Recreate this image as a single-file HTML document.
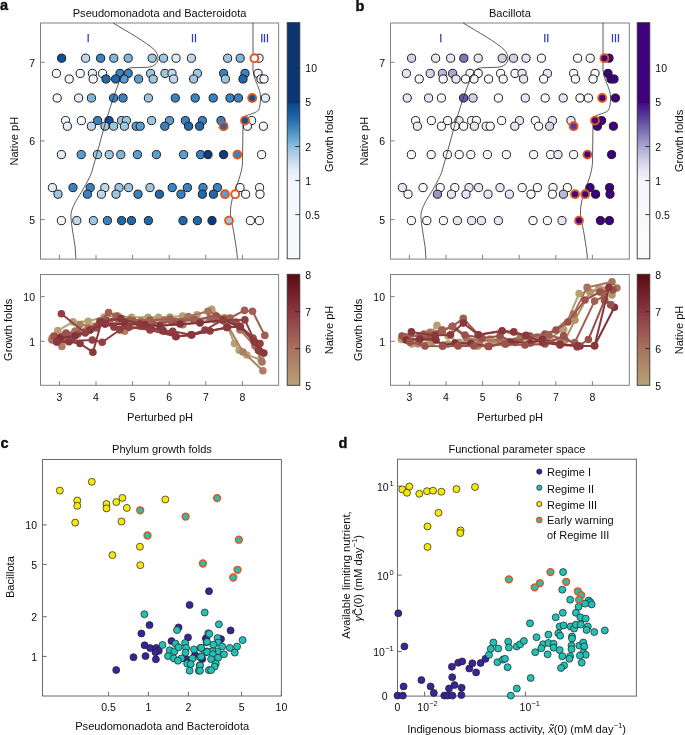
<!DOCTYPE html>
<html><head><meta charset="utf-8"><style>html,body{margin:0;padding:0;background:#fff;width:685px;height:735px;overflow:hidden}svg{display:block;will-change:transform}</style></head><body>
<svg width="685" height="735" viewBox="0 0 685 735" font-family='"Liberation Sans", sans-serif' fill="#0d0d0d">
<defs><linearGradient id="gph" x1="0" y1="0" x2="0" y2="1"><stop offset="0" stop-color="#5a0a10"/><stop offset="0.33" stop-color="#8a3540"/><stop offset="0.66" stop-color="#a8705e"/><stop offset="1" stop-color="#b8a274"/></linearGradient></defs>
<rect width="685" height="735" fill="#fff"/>
<text x="0" y="9.8" font-size="14.5" font-weight="bold" stroke="#000" stroke-width="0.35">a</text>
<text x="355.5" y="10.6" font-size="14.5" font-weight="bold" stroke="#000" stroke-width="0.35">b</text>
<text x="0.5" y="447.9" font-size="14.5" font-weight="bold" stroke="#000" stroke-width="0.35">c</text>
<text x="338.5" y="448" font-size="14.5" font-weight="bold" stroke="#000" stroke-width="0.35">d</text>
<rect x="40.5" y="23.0" width="238.10000000000002" height="236.10000000000002" fill="none" stroke="#808080" stroke-width="1"/>
<text x="159.55" y="16.8" text-anchor="middle" font-size="11.08">Pseudomonadota and Bacteroidota</text>
<text x="88.2" y="42" text-anchor="middle" font-size="10.6" fill="#2f36b0" stroke="#2f36b0" stroke-width="0.25">I</text>
<text x="194.0" y="42" text-anchor="middle" font-size="10.6" fill="#2f36b0" stroke="#2f36b0" stroke-width="0.25">II</text>
<text x="264.6" y="42" text-anchor="middle" font-size="10.6" fill="#2f36b0" stroke="#2f36b0" stroke-width="0.25">III</text>
<line x1="40.5" y1="62.3" x2="44.7" y2="62.3" stroke="#808080" stroke-width="1"/>
<text x="35.0" y="66.6" text-anchor="end" font-size="10.5">7</text>
<line x1="40.5" y1="140.9" x2="44.7" y2="140.9" stroke="#808080" stroke-width="1"/>
<text x="35.0" y="145.20000000000002" text-anchor="end" font-size="10.5">6</text>
<line x1="40.5" y1="219.6" x2="44.7" y2="219.6" stroke="#808080" stroke-width="1"/>
<text x="35.0" y="223.9" text-anchor="end" font-size="10.5">5</text>
<line x1="59.4" y1="259.1" x2="59.4" y2="254.90000000000003" stroke="#808080" stroke-width="1"/>
<line x1="96.0" y1="259.1" x2="96.0" y2="254.90000000000003" stroke="#808080" stroke-width="1"/>
<line x1="132.6" y1="259.1" x2="132.6" y2="254.90000000000003" stroke="#808080" stroke-width="1"/>
<line x1="169.20000000000002" y1="259.1" x2="169.20000000000002" y2="254.90000000000003" stroke="#808080" stroke-width="1"/>
<line x1="205.8" y1="259.1" x2="205.8" y2="254.90000000000003" stroke="#808080" stroke-width="1"/>
<line x1="242.4" y1="259.1" x2="242.4" y2="254.90000000000003" stroke="#808080" stroke-width="1"/>
<text transform="translate(18.1,141.2) rotate(-90)" text-anchor="middle" font-size="11.1">Native pH</text>
<circle cx="61.6" cy="58.2" r="4.1" fill="#0e509c" stroke="#1c1c1c" stroke-width="1.0"/>
<circle cx="85.6" cy="58.2" r="4.1" fill="#bfd7ec" stroke="#1c1c1c" stroke-width="1.0"/>
<circle cx="100.6" cy="58.2" r="4.1" fill="#3b83c0" stroke="#1c1c1c" stroke-width="1.0"/>
<circle cx="113.8" cy="58.2" r="4.1" fill="#80b6da" stroke="#1c1c1c" stroke-width="1.0"/>
<circle cx="128.2" cy="58.2" r="4.1" fill="#80b6da" stroke="#1c1c1c" stroke-width="1.0"/>
<circle cx="152.2" cy="58.2" r="4.1" fill="#9dc6e1" stroke="#1c1c1c" stroke-width="1.0"/>
<circle cx="163.5" cy="58.2" r="4.1" fill="#9dc6e1" stroke="#1c1c1c" stroke-width="1.0"/>
<circle cx="176.0" cy="58.2" r="4.1" fill="#e1ecf7" stroke="#1c1c1c" stroke-width="1.0"/>
<circle cx="191.4" cy="58.2" r="4.1" fill="#bfd7ec" stroke="#1c1c1c" stroke-width="1.0"/>
<circle cx="227.6" cy="58.2" r="4.1" fill="#9dc6e1" stroke="#1c1c1c" stroke-width="1.0"/>
<circle cx="240.2" cy="58.2" r="4.1" fill="#80b6da" stroke="#1c1c1c" stroke-width="1.0"/>
<circle cx="259.0" cy="58.2" r="4.1" fill="#f3f8fd" stroke="#1c1c1c" stroke-width="1.0"/>
<circle cx="56.4" cy="73.4" r="4.1" fill="#f3f8fd" stroke="#1c1c1c" stroke-width="1.0"/>
<circle cx="80.2" cy="73.4" r="4.1" fill="#f3f8fd" stroke="#1c1c1c" stroke-width="1.0"/>
<circle cx="92.4" cy="73.4" r="4.1" fill="#e1ecf7" stroke="#1c1c1c" stroke-width="1.0"/>
<circle cx="102.6" cy="73.4" r="4.1" fill="#f3f8fd" stroke="#1c1c1c" stroke-width="1.0"/>
<circle cx="120.0" cy="73.4" r="4.1" fill="#3b83c0" stroke="#1c1c1c" stroke-width="1.0"/>
<circle cx="128.2" cy="73.4" r="4.1" fill="#3b83c0" stroke="#1c1c1c" stroke-width="1.0"/>
<circle cx="150.6" cy="73.4" r="4.1" fill="#9dc6e1" stroke="#1c1c1c" stroke-width="1.0"/>
<circle cx="165.0" cy="73.4" r="4.1" fill="#9dc6e1" stroke="#1c1c1c" stroke-width="1.0"/>
<circle cx="172.0" cy="73.4" r="4.1" fill="#bfd7ec" stroke="#1c1c1c" stroke-width="1.0"/>
<circle cx="197.4" cy="73.4" r="4.1" fill="#9dc6e1" stroke="#1c1c1c" stroke-width="1.0"/>
<circle cx="223.6" cy="73.4" r="4.1" fill="#3b83c0" stroke="#1c1c1c" stroke-width="1.0"/>
<circle cx="245.0" cy="73.4" r="4.1" fill="#3b83c0" stroke="#1c1c1c" stroke-width="1.0"/>
<circle cx="258.0" cy="73.4" r="4.1" fill="#f3f8fd" stroke="#1c1c1c" stroke-width="1.0"/>
<circle cx="69.2" cy="79.0" r="4.1" fill="#f3f8fd" stroke="#1c1c1c" stroke-width="1.0"/>
<circle cx="93.2" cy="79.0" r="4.1" fill="#f3f8fd" stroke="#1c1c1c" stroke-width="1.0"/>
<circle cx="106.0" cy="79.0" r="4.1" fill="#2266ab" stroke="#1c1c1c" stroke-width="1.0"/>
<circle cx="115.6" cy="79.0" r="4.1" fill="#2266ab" stroke="#1c1c1c" stroke-width="1.0"/>
<circle cx="124.0" cy="79.0" r="4.1" fill="#5b9dce" stroke="#1c1c1c" stroke-width="1.0"/>
<circle cx="138.6" cy="79.0" r="4.1" fill="#5b9dce" stroke="#1c1c1c" stroke-width="1.0"/>
<circle cx="153.2" cy="79.0" r="4.1" fill="#9dc6e1" stroke="#1c1c1c" stroke-width="1.0"/>
<circle cx="173.6" cy="79.0" r="4.1" fill="#bfd7ec" stroke="#1c1c1c" stroke-width="1.0"/>
<circle cx="193.6" cy="79.0" r="4.1" fill="#9dc6e1" stroke="#1c1c1c" stroke-width="1.0"/>
<circle cx="225.4" cy="79.0" r="4.1" fill="#9dc6e1" stroke="#1c1c1c" stroke-width="1.0"/>
<circle cx="243.0" cy="79.0" r="4.1" fill="#2266ab" stroke="#1c1c1c" stroke-width="1.0"/>
<circle cx="261.0" cy="79.0" r="4.1" fill="#f3f8fd" stroke="#1c1c1c" stroke-width="1.0"/>
<circle cx="264.0" cy="79.0" r="4.1" fill="#f3f8fd" stroke="#1c1c1c" stroke-width="1.0"/>
<circle cx="57.2" cy="98.0" r="4.1" fill="#f3f8fd" stroke="#1c1c1c" stroke-width="1.0"/>
<circle cx="78.6" cy="98.0" r="4.1" fill="#e1ecf7" stroke="#1c1c1c" stroke-width="1.0"/>
<circle cx="91.4" cy="98.0" r="4.1" fill="#80b6da" stroke="#1c1c1c" stroke-width="1.0"/>
<circle cx="113.6" cy="98.0" r="4.1" fill="#3b83c0" stroke="#1c1c1c" stroke-width="1.0"/>
<circle cx="123.0" cy="98.0" r="4.1" fill="#3b83c0" stroke="#1c1c1c" stroke-width="1.0"/>
<circle cx="148.4" cy="98.0" r="4.1" fill="#9dc6e1" stroke="#1c1c1c" stroke-width="1.0"/>
<circle cx="175.3" cy="98.0" r="4.1" fill="#3b83c0" stroke="#1c1c1c" stroke-width="1.0"/>
<circle cx="195.2" cy="98.0" r="4.1" fill="#3b83c0" stroke="#1c1c1c" stroke-width="1.0"/>
<circle cx="213.2" cy="98.0" r="4.1" fill="#3b83c0" stroke="#1c1c1c" stroke-width="1.0"/>
<circle cx="230.0" cy="98.0" r="4.1" fill="#3b83c0" stroke="#1c1c1c" stroke-width="1.0"/>
<circle cx="238.4" cy="98.0" r="4.1" fill="#3b83c0" stroke="#1c1c1c" stroke-width="1.0"/>
<circle cx="265.4" cy="98.0" r="4.1" fill="#e1ecf7" stroke="#1c1c1c" stroke-width="1.0"/>
<circle cx="65.6" cy="120.6" r="4.1" fill="#f3f8fd" stroke="#1c1c1c" stroke-width="1.0"/>
<circle cx="81.4" cy="120.6" r="4.1" fill="#f3f8fd" stroke="#1c1c1c" stroke-width="1.0"/>
<circle cx="97.6" cy="120.6" r="4.1" fill="#3b83c0" stroke="#1c1c1c" stroke-width="1.0"/>
<circle cx="109.0" cy="120.6" r="4.1" fill="#0e509c" stroke="#1c1c1c" stroke-width="1.0"/>
<circle cx="121.6" cy="120.6" r="4.1" fill="#9dc6e1" stroke="#1c1c1c" stroke-width="1.0"/>
<circle cx="126.4" cy="120.6" r="4.1" fill="#9dc6e1" stroke="#1c1c1c" stroke-width="1.0"/>
<circle cx="151.6" cy="120.6" r="4.1" fill="#9dc6e1" stroke="#1c1c1c" stroke-width="1.0"/>
<circle cx="169.5" cy="120.6" r="4.1" fill="#5b9dce" stroke="#1c1c1c" stroke-width="1.0"/>
<circle cx="185.4" cy="120.6" r="4.1" fill="#3b83c0" stroke="#1c1c1c" stroke-width="1.0"/>
<circle cx="202.4" cy="120.6" r="4.1" fill="#3b83c0" stroke="#1c1c1c" stroke-width="1.0"/>
<circle cx="221.0" cy="120.6" r="4.1" fill="#3b83c0" stroke="#1c1c1c" stroke-width="1.0"/>
<circle cx="251.6" cy="120.6" r="4.1" fill="#f3f8fd" stroke="#1c1c1c" stroke-width="1.0"/>
<circle cx="67.4" cy="126.2" r="4.1" fill="#e1ecf7" stroke="#1c1c1c" stroke-width="1.0"/>
<circle cx="91.4" cy="126.2" r="4.1" fill="#bfd7ec" stroke="#1c1c1c" stroke-width="1.0"/>
<circle cx="105.0" cy="126.2" r="4.1" fill="#9dc6e1" stroke="#1c1c1c" stroke-width="1.0"/>
<circle cx="113.6" cy="126.2" r="4.1" fill="#9dc6e1" stroke="#1c1c1c" stroke-width="1.0"/>
<circle cx="124.4" cy="126.2" r="4.1" fill="#9dc6e1" stroke="#1c1c1c" stroke-width="1.0"/>
<circle cx="136.2" cy="126.2" r="4.1" fill="#5b9dce" stroke="#1c1c1c" stroke-width="1.0"/>
<circle cx="140.2" cy="126.2" r="4.1" fill="#5b9dce" stroke="#1c1c1c" stroke-width="1.0"/>
<circle cx="164.8" cy="126.2" r="4.1" fill="#3b83c0" stroke="#1c1c1c" stroke-width="1.0"/>
<circle cx="188.6" cy="126.2" r="4.1" fill="#2266ab" stroke="#1c1c1c" stroke-width="1.0"/>
<circle cx="199.6" cy="126.2" r="4.1" fill="#2266ab" stroke="#1c1c1c" stroke-width="1.0"/>
<circle cx="247.4" cy="126.2" r="4.1" fill="#f3f8fd" stroke="#1c1c1c" stroke-width="1.0"/>
<circle cx="263.4" cy="126.2" r="4.1" fill="#f3f8fd" stroke="#1c1c1c" stroke-width="1.0"/>
<circle cx="61.4" cy="154.6" r="4.1" fill="#e1ecf7" stroke="#1c1c1c" stroke-width="1.0"/>
<circle cx="81.2" cy="154.6" r="4.1" fill="#5b9dce" stroke="#1c1c1c" stroke-width="1.0"/>
<circle cx="97.4" cy="154.6" r="4.1" fill="#9dc6e1" stroke="#1c1c1c" stroke-width="1.0"/>
<circle cx="109.2" cy="154.6" r="4.1" fill="#9dc6e1" stroke="#1c1c1c" stroke-width="1.0"/>
<circle cx="120.8" cy="154.6" r="4.1" fill="#80b6da" stroke="#1c1c1c" stroke-width="1.0"/>
<circle cx="137.4" cy="154.6" r="4.1" fill="#5b9dce" stroke="#1c1c1c" stroke-width="1.0"/>
<circle cx="156.4" cy="154.6" r="4.1" fill="#5b9dce" stroke="#1c1c1c" stroke-width="1.0"/>
<circle cx="183.6" cy="154.6" r="4.1" fill="#5b9dce" stroke="#1c1c1c" stroke-width="1.0"/>
<circle cx="200.6" cy="154.6" r="4.1" fill="#3b83c0" stroke="#1c1c1c" stroke-width="1.0"/>
<circle cx="208.0" cy="154.6" r="4.1" fill="#0b3d7e" stroke="#1c1c1c" stroke-width="1.0"/>
<circle cx="223.6" cy="154.6" r="4.1" fill="#0b3d7e" stroke="#1c1c1c" stroke-width="1.0"/>
<circle cx="261.6" cy="154.6" r="4.1" fill="#f3f8fd" stroke="#1c1c1c" stroke-width="1.0"/>
<circle cx="52.4" cy="187.6" r="4.1" fill="#e1ecf7" stroke="#1c1c1c" stroke-width="1.0"/>
<circle cx="73.0" cy="187.6" r="4.1" fill="#3b83c0" stroke="#1c1c1c" stroke-width="1.0"/>
<circle cx="90.2" cy="187.6" r="4.1" fill="#3b83c0" stroke="#1c1c1c" stroke-width="1.0"/>
<circle cx="104.8" cy="187.6" r="4.1" fill="#bfd7ec" stroke="#1c1c1c" stroke-width="1.0"/>
<circle cx="119.0" cy="187.6" r="4.1" fill="#9dc6e1" stroke="#1c1c1c" stroke-width="1.0"/>
<circle cx="128.6" cy="187.6" r="4.1" fill="#9dc6e1" stroke="#1c1c1c" stroke-width="1.0"/>
<circle cx="150.0" cy="187.6" r="4.1" fill="#9dc6e1" stroke="#1c1c1c" stroke-width="1.0"/>
<circle cx="172.2" cy="187.6" r="4.1" fill="#3b83c0" stroke="#1c1c1c" stroke-width="1.0"/>
<circle cx="187.4" cy="187.6" r="4.1" fill="#3b83c0" stroke="#1c1c1c" stroke-width="1.0"/>
<circle cx="203.0" cy="187.6" r="4.1" fill="#3b83c0" stroke="#1c1c1c" stroke-width="1.0"/>
<circle cx="217.4" cy="187.6" r="4.1" fill="#3b83c0" stroke="#1c1c1c" stroke-width="1.0"/>
<circle cx="240.0" cy="187.6" r="4.1" fill="#f3f8fd" stroke="#1c1c1c" stroke-width="1.0"/>
<circle cx="259.6" cy="187.6" r="4.1" fill="#f3f8fd" stroke="#1c1c1c" stroke-width="1.0"/>
<circle cx="58.0" cy="194.2" r="4.1" fill="#9dc6e1" stroke="#1c1c1c" stroke-width="1.0"/>
<circle cx="87.4" cy="194.2" r="4.1" fill="#3b83c0" stroke="#1c1c1c" stroke-width="1.0"/>
<circle cx="101.4" cy="194.2" r="4.1" fill="#bfd7ec" stroke="#1c1c1c" stroke-width="1.0"/>
<circle cx="116.0" cy="194.2" r="4.1" fill="#9dc6e1" stroke="#1c1c1c" stroke-width="1.0"/>
<circle cx="138.0" cy="194.2" r="4.1" fill="#3b83c0" stroke="#1c1c1c" stroke-width="1.0"/>
<circle cx="159.4" cy="194.2" r="4.1" fill="#2266ab" stroke="#1c1c1c" stroke-width="1.0"/>
<circle cx="181.0" cy="194.2" r="4.1" fill="#3b83c0" stroke="#1c1c1c" stroke-width="1.0"/>
<circle cx="202.4" cy="194.2" r="4.1" fill="#2266ab" stroke="#1c1c1c" stroke-width="1.0"/>
<circle cx="213.4" cy="194.2" r="4.1" fill="#2266ab" stroke="#1c1c1c" stroke-width="1.0"/>
<circle cx="245.6" cy="194.2" r="4.1" fill="#f3f8fd" stroke="#1c1c1c" stroke-width="1.0"/>
<circle cx="260.0" cy="194.2" r="4.1" fill="#f3f8fd" stroke="#1c1c1c" stroke-width="1.0"/>
<circle cx="61.4" cy="220.6" r="4.1" fill="#f3f8fd" stroke="#1c1c1c" stroke-width="1.0"/>
<circle cx="76.8" cy="220.6" r="4.1" fill="#bfd7ec" stroke="#1c1c1c" stroke-width="1.0"/>
<circle cx="93.4" cy="220.6" r="4.1" fill="#9dc6e1" stroke="#1c1c1c" stroke-width="1.0"/>
<circle cx="107.4" cy="220.6" r="4.1" fill="#3b83c0" stroke="#1c1c1c" stroke-width="1.0"/>
<circle cx="121.6" cy="220.6" r="4.1" fill="#2266ab" stroke="#1c1c1c" stroke-width="1.0"/>
<circle cx="131.4" cy="220.6" r="4.1" fill="#2266ab" stroke="#1c1c1c" stroke-width="1.0"/>
<circle cx="148.4" cy="220.6" r="4.1" fill="#2266ab" stroke="#1c1c1c" stroke-width="1.0"/>
<circle cx="183.0" cy="220.6" r="4.1" fill="#2266ab" stroke="#1c1c1c" stroke-width="1.0"/>
<circle cx="197.4" cy="220.6" r="4.1" fill="#2266ab" stroke="#1c1c1c" stroke-width="1.0"/>
<circle cx="212.0" cy="220.6" r="4.1" fill="#0b3d7e" stroke="#1c1c1c" stroke-width="1.0"/>
<circle cx="250.4" cy="220.6" r="4.1" fill="#f3f8fd" stroke="#1c1c1c" stroke-width="1.0"/>
<circle cx="259.4" cy="220.6" r="4.1" fill="#f3f8fd" stroke="#1c1c1c" stroke-width="1.0"/>
<g transform="translate(0,0)" fill="none" stroke="#262626" stroke-width="0.75"><path d="M113.3,23.1 C128,32 146,42 154.2,49.6 C158.5,54 158.5,60 157.2,62 C155,66 150,67.3 146,67.3 L130.7,67.8 C127,68.2 124,71 121.5,77 L119,82 L112.2,101.2 L105.3,123.2 L98.5,147.9 L91.6,172.6 C89,179 84,188 76.5,200.1 C72,208 70.5,213 71,218 C71.5,225 73,233 75.1,246.8 L75.9,258.7"/><path d="M253,22.8 L253,70 C253.5,78 257.5,84 259.4,90.3 C261,95 261,104 258.7,109.8 C256.5,113 251,113.5 246,115.8 C243.5,117 243,120 243,124.5 L242.5,161.8 C242.3,167 241.5,172 237.8,182.5 C234.5,190 232.5,197 231,205 C230,212 230.5,218 231.6,221.8 C233,228 234.2,234 234.7,238 C236,246 237,252 237.4,258.7"/></g>
<circle cx="254.4" cy="58.2" r="3.95" fill="#f3f8fd" stroke="#e0561b" stroke-width="1.9"/>
<circle cx="252.2" cy="98.0" r="3.95" fill="#0e509c" stroke="#e0561b" stroke-width="1.9"/>
<circle cx="245.0" cy="120.6" r="3.95" fill="#0e509c" stroke="#e0561b" stroke-width="1.9"/>
<circle cx="223.6" cy="126.2" r="3.95" fill="#2266ab" stroke="#e0561b" stroke-width="1.9"/>
<circle cx="237.4" cy="154.6" r="3.95" fill="#3b83c0" stroke="#e0561b" stroke-width="1.9"/>
<circle cx="225.0" cy="194.2" r="3.95" fill="#5b9dce" stroke="#e0561b" stroke-width="1.9"/>
<circle cx="235.2" cy="194.2" r="3.95" fill="#f3f8fd" stroke="#e0561b" stroke-width="1.9"/>
<circle cx="229.0" cy="220.6" r="3.95" fill="#9dc6e1" stroke="#e0561b" stroke-width="1.9"/>
<defs><linearGradient id="ga" x1="0" y1="0" x2="0" y2="1"><stop offset="0" stop-color="#0b3470"/><stop offset="0.337" stop-color="#0b3875"/><stop offset="0.345" stop-color="#0a4a90"/><stop offset="0.4" stop-color="#1e63a8"/><stop offset="0.46" stop-color="#4a90c6"/><stop offset="0.525" stop-color="#8fbfdf"/><stop offset="0.585" stop-color="#c6daef"/><stop offset="0.625" stop-color="#e3edf7"/><stop offset="0.675" stop-color="#f2f7fd"/><stop offset="1" stop-color="#f6fafe"/></linearGradient></defs>
<rect x="287.2" y="22.7" width="12.600000000000023" height="236.1" fill="url(#ga)" stroke="#333" stroke-width="0.9"/>
<line x1="295.3" y1="67.7" x2="299.8" y2="67.7" stroke="#222" stroke-width="0.9"/>
<text x="305.3" y="72.0" font-size="10.5">10</text>
<line x1="295.3" y1="101.7" x2="299.8" y2="101.7" stroke="#222" stroke-width="0.9"/>
<text x="305.3" y="106.0" font-size="10.5">5</text>
<line x1="295.3" y1="146.5" x2="299.8" y2="146.5" stroke="#222" stroke-width="0.9"/>
<text x="305.3" y="150.8" font-size="10.5">2</text>
<line x1="295.3" y1="180.6" x2="299.8" y2="180.6" stroke="#222" stroke-width="0.9"/>
<text x="305.3" y="184.9" font-size="10.5">1</text>
<line x1="295.3" y1="214.6" x2="299.8" y2="214.6" stroke="#222" stroke-width="0.9"/>
<text x="305.3" y="218.9" font-size="10.5">0.5</text>
<text transform="translate(333.2,140.9) rotate(-90)" text-anchor="middle" font-size="11.1">Growth folds</text>
<rect x="390.5" y="23.0" width="238.80000000000007" height="236.10000000000002" fill="none" stroke="#808080" stroke-width="1"/>
<text x="509.90000000000003" y="16.8" text-anchor="middle" font-size="11.08">Bacillota</text>
<text x="440.8" y="42" text-anchor="middle" font-size="10.6" fill="#2f36b0" stroke="#2f36b0" stroke-width="0.25">I</text>
<text x="546.3" y="42" text-anchor="middle" font-size="10.6" fill="#2f36b0" stroke="#2f36b0" stroke-width="0.25">II</text>
<text x="615.5" y="42" text-anchor="middle" font-size="10.6" fill="#2f36b0" stroke="#2f36b0" stroke-width="0.25">III</text>
<line x1="390.5" y1="62.3" x2="394.7" y2="62.3" stroke="#808080" stroke-width="1"/>
<text x="385.0" y="66.6" text-anchor="end" font-size="10.5">7</text>
<line x1="390.5" y1="140.9" x2="394.7" y2="140.9" stroke="#808080" stroke-width="1"/>
<text x="385.0" y="145.20000000000002" text-anchor="end" font-size="10.5">6</text>
<line x1="390.5" y1="219.6" x2="394.7" y2="219.6" stroke="#808080" stroke-width="1"/>
<text x="385.0" y="223.9" text-anchor="end" font-size="10.5">5</text>
<line x1="409.4" y1="259.1" x2="409.4" y2="254.90000000000003" stroke="#808080" stroke-width="1"/>
<line x1="446.0" y1="259.1" x2="446.0" y2="254.90000000000003" stroke="#808080" stroke-width="1"/>
<line x1="482.6" y1="259.1" x2="482.6" y2="254.90000000000003" stroke="#808080" stroke-width="1"/>
<line x1="519.2" y1="259.1" x2="519.2" y2="254.90000000000003" stroke="#808080" stroke-width="1"/>
<line x1="555.8" y1="259.1" x2="555.8" y2="254.90000000000003" stroke="#808080" stroke-width="1"/>
<line x1="592.4" y1="259.1" x2="592.4" y2="254.90000000000003" stroke="#808080" stroke-width="1"/>
<text transform="translate(368.1,141.2) rotate(-90)" text-anchor="middle" font-size="11.1">Native pH</text>
<circle cx="411.6" cy="58.2" r="4.1" fill="#d3d2e8" stroke="#1c1c1c" stroke-width="1.0"/>
<circle cx="435.6" cy="58.2" r="4.1" fill="#e7e6f2" stroke="#1c1c1c" stroke-width="1.0"/>
<circle cx="450.6" cy="58.2" r="4.1" fill="#e7e6f2" stroke="#1c1c1c" stroke-width="1.0"/>
<circle cx="463.8" cy="58.2" r="4.1" fill="#7f78b9" stroke="#1c1c1c" stroke-width="1.0"/>
<circle cx="478.2" cy="58.2" r="4.1" fill="#e7e6f2" stroke="#1c1c1c" stroke-width="1.0"/>
<circle cx="502.2" cy="58.2" r="4.1" fill="#d3d2e8" stroke="#1c1c1c" stroke-width="1.0"/>
<circle cx="513.5" cy="58.2" r="4.1" fill="#d3d2e8" stroke="#1c1c1c" stroke-width="1.0"/>
<circle cx="526.0" cy="58.2" r="4.1" fill="#e7e6f2" stroke="#1c1c1c" stroke-width="1.0"/>
<circle cx="541.4" cy="58.2" r="4.1" fill="#fbfafd" stroke="#1c1c1c" stroke-width="1.0"/>
<circle cx="577.6" cy="58.2" r="4.1" fill="#fbfafd" stroke="#1c1c1c" stroke-width="1.0"/>
<circle cx="590.2" cy="58.2" r="4.1" fill="#fbfafd" stroke="#1c1c1c" stroke-width="1.0"/>
<circle cx="609.0" cy="58.2" r="4.1" fill="#3f007d" stroke="#1c1c1c" stroke-width="1.0"/>
<circle cx="406.4" cy="73.4" r="4.1" fill="#e7e6f2" stroke="#1c1c1c" stroke-width="1.0"/>
<circle cx="430.2" cy="73.4" r="4.1" fill="#d3d2e8" stroke="#1c1c1c" stroke-width="1.0"/>
<circle cx="442.4" cy="73.4" r="4.1" fill="#b9b8db" stroke="#1c1c1c" stroke-width="1.0"/>
<circle cx="452.6" cy="73.4" r="4.1" fill="#a9a7d3" stroke="#1c1c1c" stroke-width="1.0"/>
<circle cx="470.0" cy="73.4" r="4.1" fill="#fbfafd" stroke="#1c1c1c" stroke-width="1.0"/>
<circle cx="478.2" cy="73.4" r="4.1" fill="#fbfafd" stroke="#1c1c1c" stroke-width="1.0"/>
<circle cx="500.6" cy="73.4" r="4.1" fill="#fbfafd" stroke="#1c1c1c" stroke-width="1.0"/>
<circle cx="515.0" cy="73.4" r="4.1" fill="#fbfafd" stroke="#1c1c1c" stroke-width="1.0"/>
<circle cx="522.0" cy="73.4" r="4.1" fill="#e7e6f2" stroke="#1c1c1c" stroke-width="1.0"/>
<circle cx="547.4" cy="73.4" r="4.1" fill="#e7e6f2" stroke="#1c1c1c" stroke-width="1.0"/>
<circle cx="573.6" cy="73.4" r="4.1" fill="#fbfafd" stroke="#1c1c1c" stroke-width="1.0"/>
<circle cx="595.0" cy="73.4" r="4.1" fill="#fbfafd" stroke="#1c1c1c" stroke-width="1.0"/>
<circle cx="608.0" cy="73.4" r="4.1" fill="#3f007d" stroke="#1c1c1c" stroke-width="1.0"/>
<circle cx="419.2" cy="79.0" r="4.1" fill="#fbfafd" stroke="#1c1c1c" stroke-width="1.0"/>
<circle cx="443.2" cy="79.0" r="4.1" fill="#fbfafd" stroke="#1c1c1c" stroke-width="1.0"/>
<circle cx="456.0" cy="79.0" r="4.1" fill="#e7e6f2" stroke="#1c1c1c" stroke-width="1.0"/>
<circle cx="465.6" cy="79.0" r="4.1" fill="#fbfafd" stroke="#1c1c1c" stroke-width="1.0"/>
<circle cx="474.0" cy="79.0" r="4.1" fill="#fbfafd" stroke="#1c1c1c" stroke-width="1.0"/>
<circle cx="488.6" cy="79.0" r="4.1" fill="#fbfafd" stroke="#1c1c1c" stroke-width="1.0"/>
<circle cx="503.2" cy="79.0" r="4.1" fill="#fbfafd" stroke="#1c1c1c" stroke-width="1.0"/>
<circle cx="523.6" cy="79.0" r="4.1" fill="#e7e6f2" stroke="#1c1c1c" stroke-width="1.0"/>
<circle cx="543.6" cy="79.0" r="4.1" fill="#fbfafd" stroke="#1c1c1c" stroke-width="1.0"/>
<circle cx="575.4" cy="79.0" r="4.1" fill="#fbfafd" stroke="#1c1c1c" stroke-width="1.0"/>
<circle cx="593.0" cy="79.0" r="4.1" fill="#fbfafd" stroke="#1c1c1c" stroke-width="1.0"/>
<circle cx="611.0" cy="79.0" r="4.1" fill="#3f007d" stroke="#1c1c1c" stroke-width="1.0"/>
<circle cx="614.0" cy="79.0" r="4.1" fill="#3f007d" stroke="#1c1c1c" stroke-width="1.0"/>
<circle cx="407.2" cy="98.0" r="4.1" fill="#e7e6f2" stroke="#1c1c1c" stroke-width="1.0"/>
<circle cx="428.6" cy="98.0" r="4.1" fill="#e7e6f2" stroke="#1c1c1c" stroke-width="1.0"/>
<circle cx="441.4" cy="98.0" r="4.1" fill="#fbfafd" stroke="#1c1c1c" stroke-width="1.0"/>
<circle cx="463.6" cy="98.0" r="4.1" fill="#6a5cae" stroke="#1c1c1c" stroke-width="1.0"/>
<circle cx="473.0" cy="98.0" r="4.1" fill="#d3d2e8" stroke="#1c1c1c" stroke-width="1.0"/>
<circle cx="498.4" cy="98.0" r="4.1" fill="#fbfafd" stroke="#1c1c1c" stroke-width="1.0"/>
<circle cx="525.3" cy="98.0" r="4.1" fill="#e7e6f2" stroke="#1c1c1c" stroke-width="1.0"/>
<circle cx="545.2" cy="98.0" r="4.1" fill="#fbfafd" stroke="#1c1c1c" stroke-width="1.0"/>
<circle cx="563.2" cy="98.0" r="4.1" fill="#e7e6f2" stroke="#1c1c1c" stroke-width="1.0"/>
<circle cx="580.0" cy="98.0" r="4.1" fill="#fbfafd" stroke="#1c1c1c" stroke-width="1.0"/>
<circle cx="588.4" cy="98.0" r="4.1" fill="#fbfafd" stroke="#1c1c1c" stroke-width="1.0"/>
<circle cx="615.4" cy="98.0" r="4.1" fill="#3f007d" stroke="#1c1c1c" stroke-width="1.0"/>
<circle cx="415.6" cy="120.6" r="4.1" fill="#fbfafd" stroke="#1c1c1c" stroke-width="1.0"/>
<circle cx="431.4" cy="120.6" r="4.1" fill="#fbfafd" stroke="#1c1c1c" stroke-width="1.0"/>
<circle cx="447.6" cy="120.6" r="4.1" fill="#fbfafd" stroke="#1c1c1c" stroke-width="1.0"/>
<circle cx="459.0" cy="120.6" r="4.1" fill="#e7e6f2" stroke="#1c1c1c" stroke-width="1.0"/>
<circle cx="471.6" cy="120.6" r="4.1" fill="#fbfafd" stroke="#1c1c1c" stroke-width="1.0"/>
<circle cx="476.4" cy="120.6" r="4.1" fill="#fbfafd" stroke="#1c1c1c" stroke-width="1.0"/>
<circle cx="501.6" cy="120.6" r="4.1" fill="#fbfafd" stroke="#1c1c1c" stroke-width="1.0"/>
<circle cx="519.5" cy="120.6" r="4.1" fill="#e7e6f2" stroke="#1c1c1c" stroke-width="1.0"/>
<circle cx="535.4" cy="120.6" r="4.1" fill="#fbfafd" stroke="#1c1c1c" stroke-width="1.0"/>
<circle cx="552.4" cy="120.6" r="4.1" fill="#e7e6f2" stroke="#1c1c1c" stroke-width="1.0"/>
<circle cx="571.0" cy="120.6" r="4.1" fill="#e7e6f2" stroke="#1c1c1c" stroke-width="1.0"/>
<circle cx="601.6" cy="120.6" r="4.1" fill="#3f007d" stroke="#1c1c1c" stroke-width="1.0"/>
<circle cx="417.4" cy="126.2" r="4.1" fill="#e7e6f2" stroke="#1c1c1c" stroke-width="1.0"/>
<circle cx="441.4" cy="126.2" r="4.1" fill="#fbfafd" stroke="#1c1c1c" stroke-width="1.0"/>
<circle cx="455.0" cy="126.2" r="4.1" fill="#fbfafd" stroke="#1c1c1c" stroke-width="1.0"/>
<circle cx="463.6" cy="126.2" r="4.1" fill="#fbfafd" stroke="#1c1c1c" stroke-width="1.0"/>
<circle cx="474.4" cy="126.2" r="4.1" fill="#e7e6f2" stroke="#1c1c1c" stroke-width="1.0"/>
<circle cx="486.2" cy="126.2" r="4.1" fill="#fbfafd" stroke="#1c1c1c" stroke-width="1.0"/>
<circle cx="490.2" cy="126.2" r="4.1" fill="#fbfafd" stroke="#1c1c1c" stroke-width="1.0"/>
<circle cx="514.8" cy="126.2" r="4.1" fill="#e7e6f2" stroke="#1c1c1c" stroke-width="1.0"/>
<circle cx="538.6" cy="126.2" r="4.1" fill="#fbfafd" stroke="#1c1c1c" stroke-width="1.0"/>
<circle cx="549.6" cy="126.2" r="4.1" fill="#d3d2e8" stroke="#1c1c1c" stroke-width="1.0"/>
<circle cx="597.4" cy="126.2" r="4.1" fill="#3f007d" stroke="#1c1c1c" stroke-width="1.0"/>
<circle cx="613.4" cy="126.2" r="4.1" fill="#3f007d" stroke="#1c1c1c" stroke-width="1.0"/>
<circle cx="411.4" cy="154.6" r="4.1" fill="#fbfafd" stroke="#1c1c1c" stroke-width="1.0"/>
<circle cx="431.2" cy="154.6" r="4.1" fill="#fbfafd" stroke="#1c1c1c" stroke-width="1.0"/>
<circle cx="447.4" cy="154.6" r="4.1" fill="#fbfafd" stroke="#1c1c1c" stroke-width="1.0"/>
<circle cx="459.2" cy="154.6" r="4.1" fill="#fbfafd" stroke="#1c1c1c" stroke-width="1.0"/>
<circle cx="470.8" cy="154.6" r="4.1" fill="#fbfafd" stroke="#1c1c1c" stroke-width="1.0"/>
<circle cx="487.4" cy="154.6" r="4.1" fill="#fbfafd" stroke="#1c1c1c" stroke-width="1.0"/>
<circle cx="506.4" cy="154.6" r="4.1" fill="#fbfafd" stroke="#1c1c1c" stroke-width="1.0"/>
<circle cx="533.6" cy="154.6" r="4.1" fill="#fbfafd" stroke="#1c1c1c" stroke-width="1.0"/>
<circle cx="550.6" cy="154.6" r="4.1" fill="#fbfafd" stroke="#1c1c1c" stroke-width="1.0"/>
<circle cx="558.0" cy="154.6" r="4.1" fill="#e7e6f2" stroke="#1c1c1c" stroke-width="1.0"/>
<circle cx="573.6" cy="154.6" r="4.1" fill="#fbfafd" stroke="#1c1c1c" stroke-width="1.0"/>
<circle cx="611.6" cy="154.6" r="4.1" fill="#3f007d" stroke="#1c1c1c" stroke-width="1.0"/>
<circle cx="402.4" cy="187.6" r="4.1" fill="#e7e6f2" stroke="#1c1c1c" stroke-width="1.0"/>
<circle cx="423.0" cy="187.6" r="4.1" fill="#fbfafd" stroke="#1c1c1c" stroke-width="1.0"/>
<circle cx="440.2" cy="187.6" r="4.1" fill="#fbfafd" stroke="#1c1c1c" stroke-width="1.0"/>
<circle cx="454.8" cy="187.6" r="4.1" fill="#fbfafd" stroke="#1c1c1c" stroke-width="1.0"/>
<circle cx="469.0" cy="187.6" r="4.1" fill="#e7e6f2" stroke="#1c1c1c" stroke-width="1.0"/>
<circle cx="478.6" cy="187.6" r="4.1" fill="#e7e6f2" stroke="#1c1c1c" stroke-width="1.0"/>
<circle cx="500.0" cy="187.6" r="4.1" fill="#e7e6f2" stroke="#1c1c1c" stroke-width="1.0"/>
<circle cx="522.2" cy="187.6" r="4.1" fill="#fbfafd" stroke="#1c1c1c" stroke-width="1.0"/>
<circle cx="537.4" cy="187.6" r="4.1" fill="#fbfafd" stroke="#1c1c1c" stroke-width="1.0"/>
<circle cx="553.0" cy="187.6" r="4.1" fill="#fbfafd" stroke="#1c1c1c" stroke-width="1.0"/>
<circle cx="567.4" cy="187.6" r="4.1" fill="#fbfafd" stroke="#1c1c1c" stroke-width="1.0"/>
<circle cx="590.0" cy="187.6" r="4.1" fill="#3f007d" stroke="#1c1c1c" stroke-width="1.0"/>
<circle cx="609.6" cy="187.6" r="4.1" fill="#3f007d" stroke="#1c1c1c" stroke-width="1.0"/>
<circle cx="408.0" cy="194.2" r="4.1" fill="#fbfafd" stroke="#1c1c1c" stroke-width="1.0"/>
<circle cx="437.4" cy="194.2" r="4.1" fill="#9896ca" stroke="#1c1c1c" stroke-width="1.0"/>
<circle cx="451.4" cy="194.2" r="4.1" fill="#e7e6f2" stroke="#1c1c1c" stroke-width="1.0"/>
<circle cx="466.0" cy="194.2" r="4.1" fill="#e7e6f2" stroke="#1c1c1c" stroke-width="1.0"/>
<circle cx="488.0" cy="194.2" r="4.1" fill="#e7e6f2" stroke="#1c1c1c" stroke-width="1.0"/>
<circle cx="509.4" cy="194.2" r="4.1" fill="#e7e6f2" stroke="#1c1c1c" stroke-width="1.0"/>
<circle cx="531.0" cy="194.2" r="4.1" fill="#fbfafd" stroke="#1c1c1c" stroke-width="1.0"/>
<circle cx="552.4" cy="194.2" r="4.1" fill="#fbfafd" stroke="#1c1c1c" stroke-width="1.0"/>
<circle cx="563.4" cy="194.2" r="4.1" fill="#b9b8db" stroke="#1c1c1c" stroke-width="1.0"/>
<circle cx="595.6" cy="194.2" r="4.1" fill="#3f007d" stroke="#1c1c1c" stroke-width="1.0"/>
<circle cx="610.0" cy="194.2" r="4.1" fill="#3f007d" stroke="#1c1c1c" stroke-width="1.0"/>
<circle cx="411.4" cy="220.6" r="4.1" fill="#fbfafd" stroke="#1c1c1c" stroke-width="1.0"/>
<circle cx="426.8" cy="220.6" r="4.1" fill="#fbfafd" stroke="#1c1c1c" stroke-width="1.0"/>
<circle cx="443.4" cy="220.6" r="4.1" fill="#fbfafd" stroke="#1c1c1c" stroke-width="1.0"/>
<circle cx="457.4" cy="220.6" r="4.1" fill="#e7e6f2" stroke="#1c1c1c" stroke-width="1.0"/>
<circle cx="471.6" cy="220.6" r="4.1" fill="#e7e6f2" stroke="#1c1c1c" stroke-width="1.0"/>
<circle cx="481.4" cy="220.6" r="4.1" fill="#e7e6f2" stroke="#1c1c1c" stroke-width="1.0"/>
<circle cx="498.4" cy="220.6" r="4.1" fill="#e7e6f2" stroke="#1c1c1c" stroke-width="1.0"/>
<circle cx="533.0" cy="220.6" r="4.1" fill="#fbfafd" stroke="#1c1c1c" stroke-width="1.0"/>
<circle cx="547.4" cy="220.6" r="4.1" fill="#fbfafd" stroke="#1c1c1c" stroke-width="1.0"/>
<circle cx="562.0" cy="220.6" r="4.1" fill="#e7e6f2" stroke="#1c1c1c" stroke-width="1.0"/>
<circle cx="600.4" cy="220.6" r="4.1" fill="#3f007d" stroke="#1c1c1c" stroke-width="1.0"/>
<circle cx="609.4" cy="220.6" r="4.1" fill="#3f007d" stroke="#1c1c1c" stroke-width="1.0"/>
<g transform="translate(350,0)" fill="none" stroke="#262626" stroke-width="0.75"><path d="M113.3,23.1 C128,32 146,42 154.2,49.6 C158.5,54 158.5,60 157.2,62 C155,66 150,67.3 146,67.3 L130.7,67.8 C127,68.2 124,71 121.5,77 L119,82 L112.2,101.2 L105.3,123.2 L98.5,147.9 L91.6,172.6 C89,179 84,188 76.5,200.1 C72,208 70.5,213 71,218 C71.5,225 73,233 75.1,246.8 L75.9,258.7"/><path d="M253,22.8 L253,70 C253.5,78 257.5,84 259.4,90.3 C261,95 261,104 258.7,109.8 C256.5,113 251,113.5 246,115.8 C243.5,117 243,120 243,124.5 L242.5,161.8 C242.3,167 241.5,172 237.8,182.5 C234.5,190 232.5,197 231,205 C230,212 230.5,218 231.6,221.8 C233,228 234.2,234 234.7,238 C236,246 237,252 237.4,258.7"/></g>
<circle cx="604.4" cy="58.2" r="3.95" fill="#3f007d" stroke="#e0561b" stroke-width="1.9"/>
<circle cx="602.2" cy="98.0" r="3.95" fill="#3f007d" stroke="#e0561b" stroke-width="1.9"/>
<circle cx="595.0" cy="120.6" r="3.95" fill="#3f007d" stroke="#e0561b" stroke-width="1.9"/>
<circle cx="573.6" cy="126.2" r="3.95" fill="#5a38a0" stroke="#e0561b" stroke-width="1.9"/>
<circle cx="587.4" cy="154.6" r="3.95" fill="#3f007d" stroke="#e0561b" stroke-width="1.9"/>
<circle cx="575.0" cy="194.2" r="3.95" fill="#3f007d" stroke="#e0561b" stroke-width="1.9"/>
<circle cx="585.2" cy="194.2" r="3.95" fill="#3f007d" stroke="#e0561b" stroke-width="1.9"/>
<circle cx="579.0" cy="220.6" r="3.95" fill="#3f007d" stroke="#e0561b" stroke-width="1.9"/>
<defs><linearGradient id="gb" x1="0" y1="0" x2="0" y2="1"><stop offset="0" stop-color="#3f007d"/><stop offset="0.337" stop-color="#3f007d"/><stop offset="0.345" stop-color="#451085"/><stop offset="0.4" stop-color="#5a3c9e"/><stop offset="0.46" stop-color="#7a72b5"/><stop offset="0.525" stop-color="#a9a7d3"/><stop offset="0.585" stop-color="#d0cfe6"/><stop offset="0.625" stop-color="#e6e5f1"/><stop offset="0.675" stop-color="#f6f5fa"/><stop offset="1" stop-color="#fcfbfd"/></linearGradient></defs>
<rect x="637.2" y="22.7" width="12.599999999999909" height="236.1" fill="url(#gb)" stroke="#333" stroke-width="0.9"/>
<line x1="645.3" y1="67.7" x2="649.8" y2="67.7" stroke="#222" stroke-width="0.9"/>
<text x="655.3" y="72.0" font-size="10.5">10</text>
<line x1="645.3" y1="101.7" x2="649.8" y2="101.7" stroke="#222" stroke-width="0.9"/>
<text x="655.3" y="106.0" font-size="10.5">5</text>
<line x1="645.3" y1="146.5" x2="649.8" y2="146.5" stroke="#222" stroke-width="0.9"/>
<text x="655.3" y="150.8" font-size="10.5">2</text>
<line x1="645.3" y1="180.6" x2="649.8" y2="180.6" stroke="#222" stroke-width="0.9"/>
<text x="655.3" y="184.9" font-size="10.5">1</text>
<line x1="645.3" y1="214.6" x2="649.8" y2="214.6" stroke="#222" stroke-width="0.9"/>
<text x="655.3" y="218.9" font-size="10.5">0.5</text>
<text transform="translate(683.2,140.9) rotate(-90)" text-anchor="middle" font-size="11.1">Growth folds</text>
<rect x="40.5" y="274.5" width="238.10000000000002" height="110.80000000000001" fill="none" stroke="#808080" stroke-width="1"/>
<line x1="40.5" y1="296.6" x2="44.7" y2="296.6" stroke="#808080" stroke-width="1"/>
<text x="35.0" y="300.90000000000003" text-anchor="end" font-size="10.5">10</text>
<line x1="40.5" y1="341.3" x2="44.7" y2="341.3" stroke="#808080" stroke-width="1"/>
<text x="35.0" y="345.6" text-anchor="end" font-size="10.5">1</text>
<line x1="59.4" y1="385.3" x2="59.4" y2="381.1" stroke="#808080" stroke-width="1"/>
<text x="59.4" y="400.5" text-anchor="middle" font-size="10.5">3</text>
<line x1="96.0" y1="385.3" x2="96.0" y2="381.1" stroke="#808080" stroke-width="1"/>
<text x="96.0" y="400.5" text-anchor="middle" font-size="10.5">4</text>
<line x1="132.6" y1="385.3" x2="132.6" y2="381.1" stroke="#808080" stroke-width="1"/>
<text x="132.6" y="400.5" text-anchor="middle" font-size="10.5">5</text>
<line x1="169.20000000000002" y1="385.3" x2="169.20000000000002" y2="381.1" stroke="#808080" stroke-width="1"/>
<text x="169.20000000000002" y="400.5" text-anchor="middle" font-size="10.5">6</text>
<line x1="205.8" y1="385.3" x2="205.8" y2="381.1" stroke="#808080" stroke-width="1"/>
<text x="205.8" y="400.5" text-anchor="middle" font-size="10.5">7</text>
<line x1="242.4" y1="385.3" x2="242.4" y2="381.1" stroke="#808080" stroke-width="1"/>
<text x="242.4" y="400.5" text-anchor="middle" font-size="10.5">8</text>
<text x="160.1" y="420.6" text-anchor="middle" font-size="11.1">Perturbed pH</text>
<text transform="translate(11.5,329.8) rotate(-90)" text-anchor="middle" font-size="11.1">Growth folds</text>
<path d="M52.0,338.0 L57.8,330.6 L73.0,321.9 L88.2,321.3 L104.0,317.0 L118.0,316.0 L131.7,317.2 L148.0,317.2 L158.5,317.2 L170.0,317.0 L182.5,316.0 L197.0,314.9 L211.7,309.4 L224.0,318.0 L234.5,343.6 L239.2,350.2 L246.8,355.0 L261.0,359.7" fill="none" stroke="#b6a070" stroke-width="2.0" stroke-linejoin="round"/>
<circle cx="52.0" cy="338.0" r="3.8" fill="#b6a070"/>
<circle cx="57.8" cy="330.6" r="3.8" fill="#b6a070"/>
<circle cx="73.0" cy="321.9" r="3.8" fill="#b6a070"/>
<circle cx="88.2" cy="321.3" r="3.8" fill="#b6a070"/>
<circle cx="104.0" cy="317.0" r="3.8" fill="#b6a070"/>
<circle cx="118.0" cy="316.0" r="3.8" fill="#b6a070"/>
<circle cx="131.7" cy="317.2" r="3.8" fill="#b6a070"/>
<circle cx="148.0" cy="317.2" r="3.8" fill="#b6a070"/>
<circle cx="158.5" cy="317.2" r="3.8" fill="#b6a070"/>
<circle cx="170.0" cy="317.0" r="3.8" fill="#b6a070"/>
<circle cx="182.5" cy="316.0" r="3.8" fill="#b6a070"/>
<circle cx="197.0" cy="314.9" r="3.8" fill="#b6a070"/>
<circle cx="211.7" cy="309.4" r="3.8" fill="#b6a070"/>
<circle cx="224.0" cy="318.0" r="3.8" fill="#b6a070"/>
<circle cx="234.5" cy="343.6" r="3.8" fill="#b6a070"/>
<circle cx="239.2" cy="350.2" r="3.8" fill="#b6a070"/>
<circle cx="246.8" cy="355.0" r="3.8" fill="#b6a070"/>
<circle cx="261.0" cy="359.7" r="3.8" fill="#b6a070"/>
<path d="M61.9,346.4 L70.0,335.0 L80.0,324.8 L95.0,326.0 L110.0,323.0 L124.7,331.2 L140.0,326.0 L160.0,325.0 L183.0,324.8 L200.0,322.0 L215.0,320.0 L228.0,326.0 L243.0,352.0 L262.9,370.7" fill="none" stroke="#ad7f63" stroke-width="2.0" stroke-linejoin="round"/>
<circle cx="61.9" cy="346.4" r="3.8" fill="#ad7f63"/>
<circle cx="70.0" cy="335.0" r="3.8" fill="#ad7f63"/>
<circle cx="80.0" cy="324.8" r="3.8" fill="#ad7f63"/>
<circle cx="95.0" cy="326.0" r="3.8" fill="#ad7f63"/>
<circle cx="110.0" cy="323.0" r="3.8" fill="#ad7f63"/>
<circle cx="124.7" cy="331.2" r="3.8" fill="#ad7f63"/>
<circle cx="140.0" cy="326.0" r="3.8" fill="#ad7f63"/>
<circle cx="160.0" cy="325.0" r="3.8" fill="#ad7f63"/>
<circle cx="183.0" cy="324.8" r="3.8" fill="#ad7f63"/>
<circle cx="200.0" cy="322.0" r="3.8" fill="#ad7f63"/>
<circle cx="215.0" cy="320.0" r="3.8" fill="#ad7f63"/>
<circle cx="228.0" cy="326.0" r="3.8" fill="#ad7f63"/>
<circle cx="243.0" cy="352.0" r="3.8" fill="#ad7f63"/>
<circle cx="262.9" cy="370.7" r="3.8" fill="#ad7f63"/>
<path d="M52.0,340.0 L63.0,336.0 L75.0,331.0 L88.0,328.0 L105.0,324.0 L120.0,322.0 L141.0,321.3 L164.4,320.1 L174.9,321.3 L188.3,316.6 L207.9,311.3 L225.0,318.0 L240.0,330.0 L255.0,346.0 L262.0,362.0" fill="none" stroke="#a8735e" stroke-width="2.0" stroke-linejoin="round"/>
<circle cx="52.0" cy="340.0" r="3.8" fill="#a8735e"/>
<circle cx="63.0" cy="336.0" r="3.8" fill="#a8735e"/>
<circle cx="75.0" cy="331.0" r="3.8" fill="#a8735e"/>
<circle cx="88.0" cy="328.0" r="3.8" fill="#a8735e"/>
<circle cx="105.0" cy="324.0" r="3.8" fill="#a8735e"/>
<circle cx="120.0" cy="322.0" r="3.8" fill="#a8735e"/>
<circle cx="141.0" cy="321.3" r="3.8" fill="#a8735e"/>
<circle cx="164.4" cy="320.1" r="3.8" fill="#a8735e"/>
<circle cx="174.9" cy="321.3" r="3.8" fill="#a8735e"/>
<circle cx="188.3" cy="316.6" r="3.8" fill="#a8735e"/>
<circle cx="207.9" cy="311.3" r="3.8" fill="#a8735e"/>
<circle cx="225.0" cy="318.0" r="3.8" fill="#a8735e"/>
<circle cx="240.0" cy="330.0" r="3.8" fill="#a8735e"/>
<circle cx="255.0" cy="346.0" r="3.8" fill="#a8735e"/>
<circle cx="262.0" cy="362.0" r="3.8" fill="#a8735e"/>
<path d="M54.0,336.0 L66.0,333.0 L78.0,334.0 L96.0,328.0 L106.0,320.0 L117.0,318.0 L133.0,321.0 L152.0,323.0 L172.0,322.0 L194.0,320.0 L216.0,316.0 L236.0,322.0 L253.0,338.0 L261.0,352.0" fill="none" stroke="#9a514b" stroke-width="2.0" stroke-linejoin="round"/>
<circle cx="54.0" cy="336.0" r="3.8" fill="#9a514b"/>
<circle cx="66.0" cy="333.0" r="3.8" fill="#9a514b"/>
<circle cx="78.0" cy="334.0" r="3.8" fill="#9a514b"/>
<circle cx="96.0" cy="328.0" r="3.8" fill="#9a514b"/>
<circle cx="106.0" cy="320.0" r="3.8" fill="#9a514b"/>
<circle cx="117.0" cy="318.0" r="3.8" fill="#9a514b"/>
<circle cx="133.0" cy="321.0" r="3.8" fill="#9a514b"/>
<circle cx="152.0" cy="323.0" r="3.8" fill="#9a514b"/>
<circle cx="172.0" cy="322.0" r="3.8" fill="#9a514b"/>
<circle cx="194.0" cy="320.0" r="3.8" fill="#9a514b"/>
<circle cx="216.0" cy="316.0" r="3.8" fill="#9a514b"/>
<circle cx="236.0" cy="322.0" r="3.8" fill="#9a514b"/>
<circle cx="253.0" cy="338.0" r="3.8" fill="#9a514b"/>
<circle cx="261.0" cy="352.0" r="3.8" fill="#9a514b"/>
<path d="M57.0,342.0 L72.0,337.0 L90.0,330.0 L108.6,312.5 L116.2,316.0 L130.0,320.0 L150.0,320.0 L170.0,319.0 L194.7,319.5 L210.0,318.0 L230.0,318.0 L244.5,310.4 L252.5,311.3 L264.8,335.4" fill="none" stroke="#a05f52" stroke-width="2.0" stroke-linejoin="round"/>
<circle cx="57.0" cy="342.0" r="3.8" fill="#a05f52"/>
<circle cx="72.0" cy="337.0" r="3.8" fill="#a05f52"/>
<circle cx="90.0" cy="330.0" r="3.8" fill="#a05f52"/>
<circle cx="108.6" cy="312.5" r="3.8" fill="#a05f52"/>
<circle cx="116.2" cy="316.0" r="3.8" fill="#a05f52"/>
<circle cx="130.0" cy="320.0" r="3.8" fill="#a05f52"/>
<circle cx="150.0" cy="320.0" r="3.8" fill="#a05f52"/>
<circle cx="170.0" cy="319.0" r="3.8" fill="#a05f52"/>
<circle cx="194.7" cy="319.5" r="3.8" fill="#a05f52"/>
<circle cx="210.0" cy="318.0" r="3.8" fill="#a05f52"/>
<circle cx="230.0" cy="318.0" r="3.8" fill="#a05f52"/>
<circle cx="244.5" cy="310.4" r="3.8" fill="#a05f52"/>
<circle cx="252.5" cy="311.3" r="3.8" fill="#a05f52"/>
<circle cx="264.8" cy="335.4" r="3.8" fill="#a05f52"/>
<path d="M60.0,338.0 L75.0,336.0 L90.0,330.0 L105.0,324.0 L125.0,324.0 L145.0,325.0 L160.0,326.0 L180.0,324.0 L200.0,323.0 L223.0,319.9 L240.1,326.5 L254.4,341.7 L258.6,350.2" fill="none" stroke="#843239" stroke-width="2.0" stroke-linejoin="round"/>
<circle cx="60.0" cy="338.0" r="3.8" fill="#843239"/>
<circle cx="75.0" cy="336.0" r="3.8" fill="#843239"/>
<circle cx="90.0" cy="330.0" r="3.8" fill="#843239"/>
<circle cx="105.0" cy="324.0" r="3.8" fill="#843239"/>
<circle cx="125.0" cy="324.0" r="3.8" fill="#843239"/>
<circle cx="145.0" cy="325.0" r="3.8" fill="#843239"/>
<circle cx="160.0" cy="326.0" r="3.8" fill="#843239"/>
<circle cx="180.0" cy="324.0" r="3.8" fill="#843239"/>
<circle cx="200.0" cy="323.0" r="3.8" fill="#843239"/>
<circle cx="223.0" cy="319.9" r="3.8" fill="#843239"/>
<circle cx="240.1" cy="326.5" r="3.8" fill="#843239"/>
<circle cx="254.4" cy="341.7" r="3.8" fill="#843239"/>
<circle cx="258.6" cy="350.2" r="3.8" fill="#843239"/>
<path d="M56.7,341.7 L92.3,340.0 L102.2,342.3 L119.7,330.0 L128.8,327.1 L150.0,330.0 L176.0,336.6 L191.8,335.0 L210.0,331.0 L226.9,327.4 L240.0,326.5 L260.0,343.6 L258.6,350.2" fill="none" stroke="#923f42" stroke-width="2.0" stroke-linejoin="round"/>
<circle cx="56.7" cy="341.7" r="3.8" fill="#923f42"/>
<circle cx="92.3" cy="340.0" r="3.8" fill="#923f42"/>
<circle cx="102.2" cy="342.3" r="3.8" fill="#923f42"/>
<circle cx="119.7" cy="330.0" r="3.8" fill="#923f42"/>
<circle cx="128.8" cy="327.1" r="3.8" fill="#923f42"/>
<circle cx="150.0" cy="330.0" r="3.8" fill="#923f42"/>
<circle cx="176.0" cy="336.6" r="3.8" fill="#923f42"/>
<circle cx="191.8" cy="335.0" r="3.8" fill="#923f42"/>
<circle cx="210.0" cy="331.0" r="3.8" fill="#923f42"/>
<circle cx="226.9" cy="327.4" r="3.8" fill="#923f42"/>
<circle cx="240.0" cy="326.5" r="3.8" fill="#923f42"/>
<circle cx="260.0" cy="343.6" r="3.8" fill="#923f42"/>
<circle cx="258.6" cy="350.2" r="3.8" fill="#923f42"/>
<path d="M61.4,313.7 L85.3,333.0 L99.9,321.3 L113.9,327.1 L128.8,327.1 L151.0,328.9 L163.2,330.6 L172.6,331.2 L191.2,334.7 L205.0,330.0 L223.0,319.9 L244.9,319.9 L258.6,350.2" fill="none" stroke="#8f3f40" stroke-width="2.0" stroke-linejoin="round"/>
<circle cx="61.4" cy="313.7" r="3.8" fill="#8f3f40"/>
<circle cx="85.3" cy="333.0" r="3.8" fill="#8f3f40"/>
<circle cx="99.9" cy="321.3" r="3.8" fill="#8f3f40"/>
<circle cx="113.9" cy="327.1" r="3.8" fill="#8f3f40"/>
<circle cx="128.8" cy="327.1" r="3.8" fill="#8f3f40"/>
<circle cx="151.0" cy="328.9" r="3.8" fill="#8f3f40"/>
<circle cx="163.2" cy="330.6" r="3.8" fill="#8f3f40"/>
<circle cx="172.6" cy="331.2" r="3.8" fill="#8f3f40"/>
<circle cx="191.2" cy="334.7" r="3.8" fill="#8f3f40"/>
<circle cx="205.0" cy="330.0" r="3.8" fill="#8f3f40"/>
<circle cx="223.0" cy="319.9" r="3.8" fill="#8f3f40"/>
<circle cx="244.9" cy="319.9" r="3.8" fill="#8f3f40"/>
<circle cx="258.6" cy="350.2" r="3.8" fill="#8f3f40"/>
<path d="M56.7,341.7 L68.9,341.7 L80.0,343.5 L92.9,352.2 L101.5,322.0 L120.9,318.4 L140.0,324.0 L163.0,331.0 L176.0,336.5 L191.2,334.7 L226.9,327.4 L240.1,326.5 L254.4,341.7 L263.9,353.1" fill="none" stroke="#8a383c" stroke-width="2.0" stroke-linejoin="round"/>
<circle cx="56.7" cy="341.7" r="3.8" fill="#8a383c"/>
<circle cx="68.9" cy="341.7" r="3.8" fill="#8a383c"/>
<circle cx="80.0" cy="343.5" r="3.8" fill="#8a383c"/>
<circle cx="92.9" cy="352.2" r="3.8" fill="#8a383c"/>
<circle cx="101.5" cy="322.0" r="3.8" fill="#8a383c"/>
<circle cx="120.9" cy="318.4" r="3.8" fill="#8a383c"/>
<circle cx="140.0" cy="324.0" r="3.8" fill="#8a383c"/>
<circle cx="163.0" cy="331.0" r="3.8" fill="#8a383c"/>
<circle cx="176.0" cy="336.5" r="3.8" fill="#8a383c"/>
<circle cx="191.2" cy="334.7" r="3.8" fill="#8a383c"/>
<circle cx="226.9" cy="327.4" r="3.8" fill="#8a383c"/>
<circle cx="240.1" cy="326.5" r="3.8" fill="#8a383c"/>
<circle cx="254.4" cy="341.7" r="3.8" fill="#8a383c"/>
<circle cx="263.9" cy="353.1" r="3.8" fill="#8a383c"/>
<rect x="287.2" y="274.3" width="12.600000000000023" height="111" fill="url(#gph)" stroke="#333" stroke-width="0.9"/>
<text x="305.3" y="279.2" font-size="10.5">8</text>
<line x1="295.3" y1="311.8" x2="299.8" y2="311.8" stroke="#222" stroke-width="0.9"/>
<text x="305.3" y="316.1" font-size="10.5">7</text>
<line x1="295.3" y1="348.6" x2="299.8" y2="348.6" stroke="#222" stroke-width="0.9"/>
<text x="305.3" y="352.90000000000003" font-size="10.5">6</text>
<text x="305.3" y="389.6" font-size="10.5">5</text>
<text transform="translate(333.1,330) rotate(-90)" text-anchor="middle" font-size="11.1">Native pH</text>
<rect x="390.5" y="274.5" width="238.80000000000007" height="110.80000000000001" fill="none" stroke="#808080" stroke-width="1"/>
<line x1="390.5" y1="296.6" x2="394.7" y2="296.6" stroke="#808080" stroke-width="1"/>
<text x="385.0" y="300.90000000000003" text-anchor="end" font-size="10.5">10</text>
<line x1="390.5" y1="341.3" x2="394.7" y2="341.3" stroke="#808080" stroke-width="1"/>
<text x="385.0" y="345.6" text-anchor="end" font-size="10.5">1</text>
<line x1="409.4" y1="385.3" x2="409.4" y2="381.1" stroke="#808080" stroke-width="1"/>
<text x="409.4" y="400.5" text-anchor="middle" font-size="10.5">3</text>
<line x1="446.0" y1="385.3" x2="446.0" y2="381.1" stroke="#808080" stroke-width="1"/>
<text x="446.0" y="400.5" text-anchor="middle" font-size="10.5">4</text>
<line x1="482.6" y1="385.3" x2="482.6" y2="381.1" stroke="#808080" stroke-width="1"/>
<text x="482.6" y="400.5" text-anchor="middle" font-size="10.5">5</text>
<line x1="519.2" y1="385.3" x2="519.2" y2="381.1" stroke="#808080" stroke-width="1"/>
<text x="519.2" y="400.5" text-anchor="middle" font-size="10.5">6</text>
<line x1="555.8" y1="385.3" x2="555.8" y2="381.1" stroke="#808080" stroke-width="1"/>
<text x="555.8" y="400.5" text-anchor="middle" font-size="10.5">7</text>
<line x1="592.4" y1="385.3" x2="592.4" y2="381.1" stroke="#808080" stroke-width="1"/>
<text x="592.4" y="400.5" text-anchor="middle" font-size="10.5">8</text>
<text x="510.1" y="420.6" text-anchor="middle" font-size="11.1">Perturbed pH</text>
<text transform="translate(361.5,329.8) rotate(-90)" text-anchor="middle" font-size="11.1">Growth folds</text>
<path d="M401.4,339.5 L412.0,344.0 L426.0,338.0 L437.0,325.4 L448.0,336.0 L459.2,342.4 L476.0,341.0 L490.0,339.0 L506.2,344.1 L520.0,338.0 L535.0,340.0 L550.0,338.0 L563.6,329.6 L579.1,293.6 L598.9,288.6 L605.0,300.0" fill="none" stroke="#b6a070" stroke-width="2.0" stroke-linejoin="round"/>
<circle cx="401.4" cy="339.5" r="3.8" fill="#b6a070"/>
<circle cx="412.0" cy="344.0" r="3.8" fill="#b6a070"/>
<circle cx="426.0" cy="338.0" r="3.8" fill="#b6a070"/>
<circle cx="437.0" cy="325.4" r="3.8" fill="#b6a070"/>
<circle cx="448.0" cy="336.0" r="3.8" fill="#b6a070"/>
<circle cx="459.2" cy="342.4" r="3.8" fill="#b6a070"/>
<circle cx="476.0" cy="341.0" r="3.8" fill="#b6a070"/>
<circle cx="490.0" cy="339.0" r="3.8" fill="#b6a070"/>
<circle cx="506.2" cy="344.1" r="3.8" fill="#b6a070"/>
<circle cx="520.0" cy="338.0" r="3.8" fill="#b6a070"/>
<circle cx="535.0" cy="340.0" r="3.8" fill="#b6a070"/>
<circle cx="550.0" cy="338.0" r="3.8" fill="#b6a070"/>
<circle cx="563.6" cy="329.6" r="3.8" fill="#b6a070"/>
<circle cx="579.1" cy="293.6" r="3.8" fill="#b6a070"/>
<circle cx="598.9" cy="288.6" r="3.8" fill="#b6a070"/>
<circle cx="605.0" cy="300.0" r="3.8" fill="#b6a070"/>
<path d="M410.2,342.4 L418.0,344.0 L432.0,342.0 L448.1,344.1 L460.0,344.0 L478.0,346.0 L495.0,342.0 L515.0,341.0 L532.0,342.0 L548.0,340.0 L565.0,340.0 L575.0,320.0 L590.0,292.0 L603.0,290.0 L612.0,295.0" fill="none" stroke="#b09466" stroke-width="2.0" stroke-linejoin="round"/>
<circle cx="410.2" cy="342.4" r="3.8" fill="#b09466"/>
<circle cx="418.0" cy="344.0" r="3.8" fill="#b09466"/>
<circle cx="432.0" cy="342.0" r="3.8" fill="#b09466"/>
<circle cx="448.1" cy="344.1" r="3.8" fill="#b09466"/>
<circle cx="460.0" cy="344.0" r="3.8" fill="#b09466"/>
<circle cx="478.0" cy="346.0" r="3.8" fill="#b09466"/>
<circle cx="495.0" cy="342.0" r="3.8" fill="#b09466"/>
<circle cx="515.0" cy="341.0" r="3.8" fill="#b09466"/>
<circle cx="532.0" cy="342.0" r="3.8" fill="#b09466"/>
<circle cx="548.0" cy="340.0" r="3.8" fill="#b09466"/>
<circle cx="565.0" cy="340.0" r="3.8" fill="#b09466"/>
<circle cx="575.0" cy="320.0" r="3.8" fill="#b09466"/>
<circle cx="590.0" cy="292.0" r="3.8" fill="#b09466"/>
<circle cx="603.0" cy="290.0" r="3.8" fill="#b09466"/>
<circle cx="612.0" cy="295.0" r="3.8" fill="#b09466"/>
<path d="M405.0,337.0 L420.0,336.0 L430.0,332.4 L442.3,330.1 L452.2,326.6 L466.2,337.7 L480.0,341.0 L500.0,340.0 L520.0,339.0 L537.0,337.0 L548.7,335.8 L573.5,314.1 L587.1,287.4 L612.0,281.8 L616.9,288.0" fill="none" stroke="#a8735e" stroke-width="2.0" stroke-linejoin="round"/>
<circle cx="405.0" cy="337.0" r="3.8" fill="#a8735e"/>
<circle cx="420.0" cy="336.0" r="3.8" fill="#a8735e"/>
<circle cx="430.0" cy="332.4" r="3.8" fill="#a8735e"/>
<circle cx="442.3" cy="330.1" r="3.8" fill="#a8735e"/>
<circle cx="452.2" cy="326.6" r="3.8" fill="#a8735e"/>
<circle cx="466.2" cy="337.7" r="3.8" fill="#a8735e"/>
<circle cx="480.0" cy="341.0" r="3.8" fill="#a8735e"/>
<circle cx="500.0" cy="340.0" r="3.8" fill="#a8735e"/>
<circle cx="520.0" cy="339.0" r="3.8" fill="#a8735e"/>
<circle cx="537.0" cy="337.0" r="3.8" fill="#a8735e"/>
<circle cx="548.7" cy="335.8" r="3.8" fill="#a8735e"/>
<circle cx="573.5" cy="314.1" r="3.8" fill="#a8735e"/>
<circle cx="587.1" cy="287.4" r="3.8" fill="#a8735e"/>
<circle cx="612.0" cy="281.8" r="3.8" fill="#a8735e"/>
<circle cx="616.9" cy="288.0" r="3.8" fill="#a8735e"/>
<path d="M402.0,336.0 L418.9,340.6 L430.0,336.0 L442.0,331.0 L452.7,326.4 L465.0,335.0 L482.0,338.0 L500.0,336.0 L515.0,342.4 L530.0,336.0 L545.0,334.0 L556.0,330.0 L568.0,322.0 L585.0,300.0 L600.0,292.0 L613.0,290.0" fill="none" stroke="#9a514b" stroke-width="2.0" stroke-linejoin="round"/>
<circle cx="402.0" cy="336.0" r="3.8" fill="#9a514b"/>
<circle cx="418.9" cy="340.6" r="3.8" fill="#9a514b"/>
<circle cx="430.0" cy="336.0" r="3.8" fill="#9a514b"/>
<circle cx="442.0" cy="331.0" r="3.8" fill="#9a514b"/>
<circle cx="452.7" cy="326.4" r="3.8" fill="#9a514b"/>
<circle cx="465.0" cy="335.0" r="3.8" fill="#9a514b"/>
<circle cx="482.0" cy="338.0" r="3.8" fill="#9a514b"/>
<circle cx="500.0" cy="336.0" r="3.8" fill="#9a514b"/>
<circle cx="515.0" cy="342.4" r="3.8" fill="#9a514b"/>
<circle cx="530.0" cy="336.0" r="3.8" fill="#9a514b"/>
<circle cx="545.0" cy="334.0" r="3.8" fill="#9a514b"/>
<circle cx="556.0" cy="330.0" r="3.8" fill="#9a514b"/>
<circle cx="568.0" cy="322.0" r="3.8" fill="#9a514b"/>
<circle cx="585.0" cy="300.0" r="3.8" fill="#9a514b"/>
<circle cx="600.0" cy="292.0" r="3.8" fill="#9a514b"/>
<circle cx="613.0" cy="290.0" r="3.8" fill="#9a514b"/>
<path d="M406.1,337.1 L424.0,334.0 L442.3,330.1 L452.2,326.6 L463.3,318.4 L478.5,334.7 L502.1,331.2 L525.0,336.0 L548.4,334.8 L574.7,342.6 L594.6,301.1 L604.5,296.0" fill="none" stroke="#a05f52" stroke-width="2.0" stroke-linejoin="round"/>
<circle cx="406.1" cy="337.1" r="3.8" fill="#a05f52"/>
<circle cx="424.0" cy="334.0" r="3.8" fill="#a05f52"/>
<circle cx="442.3" cy="330.1" r="3.8" fill="#a05f52"/>
<circle cx="452.2" cy="326.6" r="3.8" fill="#a05f52"/>
<circle cx="463.3" cy="318.4" r="3.8" fill="#a05f52"/>
<circle cx="478.5" cy="334.7" r="3.8" fill="#a05f52"/>
<circle cx="502.1" cy="331.2" r="3.8" fill="#a05f52"/>
<circle cx="525.0" cy="336.0" r="3.8" fill="#a05f52"/>
<circle cx="548.4" cy="334.8" r="3.8" fill="#a05f52"/>
<circle cx="574.7" cy="342.6" r="3.8" fill="#a05f52"/>
<circle cx="594.6" cy="301.1" r="3.8" fill="#a05f52"/>
<circle cx="604.5" cy="296.0" r="3.8" fill="#a05f52"/>
<path d="M406.0,340.0 L420.0,339.0 L436.0,340.0 L442.9,345.3 L455.0,343.0 L470.9,343.5 L488.7,346.5 L510.0,342.0 L530.0,343.0 L542.5,339.5 L560.0,344.0 L580.0,346.0 L594.6,345.7 L614.4,307.3 L610.7,304.8" fill="none" stroke="#843239" stroke-width="2.0" stroke-linejoin="round"/>
<circle cx="406.0" cy="340.0" r="3.8" fill="#843239"/>
<circle cx="420.0" cy="339.0" r="3.8" fill="#843239"/>
<circle cx="436.0" cy="340.0" r="3.8" fill="#843239"/>
<circle cx="442.9" cy="345.3" r="3.8" fill="#843239"/>
<circle cx="455.0" cy="343.0" r="3.8" fill="#843239"/>
<circle cx="470.9" cy="343.5" r="3.8" fill="#843239"/>
<circle cx="488.7" cy="346.5" r="3.8" fill="#843239"/>
<circle cx="510.0" cy="342.0" r="3.8" fill="#843239"/>
<circle cx="530.0" cy="343.0" r="3.8" fill="#843239"/>
<circle cx="542.5" cy="339.5" r="3.8" fill="#843239"/>
<circle cx="560.0" cy="344.0" r="3.8" fill="#843239"/>
<circle cx="580.0" cy="346.0" r="3.8" fill="#843239"/>
<circle cx="594.6" cy="345.7" r="3.8" fill="#843239"/>
<circle cx="614.4" cy="307.3" r="3.8" fill="#843239"/>
<circle cx="610.7" cy="304.8" r="3.8" fill="#843239"/>
<path d="M410.0,342.0 L425.0,346.0 L442.6,346.2 L458.0,346.0 L474.0,346.0 L488.1,346.2 L505.0,344.0 L525.0,345.0 L545.0,344.0 L563.6,335.8 L577.2,347.0 L588.4,339.5 L604.5,300.4 L610.7,304.8" fill="none" stroke="#9c524c" stroke-width="2.0" stroke-linejoin="round"/>
<circle cx="410.0" cy="342.0" r="3.8" fill="#9c524c"/>
<circle cx="425.0" cy="346.0" r="3.8" fill="#9c524c"/>
<circle cx="442.6" cy="346.2" r="3.8" fill="#9c524c"/>
<circle cx="458.0" cy="346.0" r="3.8" fill="#9c524c"/>
<circle cx="474.0" cy="346.0" r="3.8" fill="#9c524c"/>
<circle cx="488.1" cy="346.2" r="3.8" fill="#9c524c"/>
<circle cx="505.0" cy="344.0" r="3.8" fill="#9c524c"/>
<circle cx="525.0" cy="345.0" r="3.8" fill="#9c524c"/>
<circle cx="545.0" cy="344.0" r="3.8" fill="#9c524c"/>
<circle cx="563.6" cy="335.8" r="3.8" fill="#9c524c"/>
<circle cx="577.2" cy="347.0" r="3.8" fill="#9c524c"/>
<circle cx="588.4" cy="339.5" r="3.8" fill="#9c524c"/>
<circle cx="604.5" cy="300.4" r="3.8" fill="#9c524c"/>
<circle cx="610.7" cy="304.8" r="3.8" fill="#9c524c"/>
<path d="M411.4,331.9 L435.3,335.4 L450.5,334.8 L463.3,323.1 L478.2,334.8 L502.1,330.7 L513.8,331.9 L526.0,335.4 L542.4,342.4 L560.0,345.0 L577.0,346.0 L594.6,345.7 L608.9,287.4" fill="none" stroke="#8a383c" stroke-width="2.0" stroke-linejoin="round"/>
<circle cx="411.4" cy="331.9" r="3.8" fill="#8a383c"/>
<circle cx="435.3" cy="335.4" r="3.8" fill="#8a383c"/>
<circle cx="450.5" cy="334.8" r="3.8" fill="#8a383c"/>
<circle cx="463.3" cy="323.1" r="3.8" fill="#8a383c"/>
<circle cx="478.2" cy="334.8" r="3.8" fill="#8a383c"/>
<circle cx="502.1" cy="330.7" r="3.8" fill="#8a383c"/>
<circle cx="513.8" cy="331.9" r="3.8" fill="#8a383c"/>
<circle cx="526.0" cy="335.4" r="3.8" fill="#8a383c"/>
<circle cx="542.4" cy="342.4" r="3.8" fill="#8a383c"/>
<circle cx="560.0" cy="345.0" r="3.8" fill="#8a383c"/>
<circle cx="577.0" cy="346.0" r="3.8" fill="#8a383c"/>
<circle cx="594.6" cy="345.7" r="3.8" fill="#8a383c"/>
<circle cx="608.9" cy="287.4" r="3.8" fill="#8a383c"/>
<rect x="637.2" y="274.3" width="12.599999999999909" height="111" fill="url(#gph)" stroke="#333" stroke-width="0.9"/>
<text x="655.3" y="279.2" font-size="10.5">8</text>
<line x1="645.3" y1="311.8" x2="649.8" y2="311.8" stroke="#222" stroke-width="0.9"/>
<text x="655.3" y="316.1" font-size="10.5">7</text>
<line x1="645.3" y1="348.6" x2="649.8" y2="348.6" stroke="#222" stroke-width="0.9"/>
<text x="655.3" y="352.90000000000003" font-size="10.5">6</text>
<text x="655.3" y="389.6" font-size="10.5">5</text>
<text transform="translate(683.1,330) rotate(-90)" text-anchor="middle" font-size="11.1">Native pH</text>
<rect x="42.5" y="459.5" width="238.89999999999998" height="236.5" fill="none" stroke="#6a6a6a" stroke-width="1"/>
<text x="161.95" y="453" text-anchor="middle" font-size="11.1">Phylum growth folds</text>
<line x1="42.5" y1="524.9" x2="46.7" y2="524.9" stroke="#6a6a6a" stroke-width="1"/>
<text x="37.0" y="529.1999999999999" text-anchor="end" font-size="10.5">10</text>
<line x1="42.5" y1="564.4" x2="46.7" y2="564.4" stroke="#6a6a6a" stroke-width="1"/>
<text x="37.0" y="568.6999999999999" text-anchor="end" font-size="10.5">5</text>
<line x1="42.5" y1="616.7" x2="46.7" y2="616.7" stroke="#6a6a6a" stroke-width="1"/>
<text x="37.0" y="621.0" text-anchor="end" font-size="10.5">2</text>
<line x1="42.5" y1="656.4" x2="46.7" y2="656.4" stroke="#6a6a6a" stroke-width="1"/>
<text x="37.0" y="660.6999999999999" text-anchor="end" font-size="10.5">1</text>
<line x1="108.6" y1="696.0" x2="108.6" y2="691.8" stroke="#6a6a6a" stroke-width="1"/>
<text x="108.6" y="711.4" text-anchor="middle" font-size="10.5">0.5</text>
<line x1="148.4" y1="696.0" x2="148.4" y2="691.8" stroke="#6a6a6a" stroke-width="1"/>
<text x="148.4" y="711.4" text-anchor="middle" font-size="10.5">1</text>
<line x1="188.4" y1="696.0" x2="188.4" y2="691.8" stroke="#6a6a6a" stroke-width="1"/>
<text x="188.4" y="711.4" text-anchor="middle" font-size="10.5">2</text>
<line x1="241.6" y1="696.0" x2="241.6" y2="691.8" stroke="#6a6a6a" stroke-width="1"/>
<text x="241.6" y="711.4" text-anchor="middle" font-size="10.5">5</text>
<line x1="281.4" y1="696.0" x2="281.4" y2="691.8" stroke="#6a6a6a" stroke-width="1"/>
<text x="281.4" y="711.4" text-anchor="middle" font-size="10.5">10</text>
<text x="162.2" y="729.5" text-anchor="middle" font-size="11.1">Pseudomonadota and Bacteroidota</text>
<text transform="translate(14.2,577.1) rotate(-90)" text-anchor="middle" font-size="11.1">Bacillota</text>
<circle cx="209.0" cy="591.2" r="3.5" fill="#3b239c" stroke="#1c1c1c" stroke-width="0.7"/>
<circle cx="189.6" cy="605.0" r="3.5" fill="#3b239c" stroke="#1c1c1c" stroke-width="0.7"/>
<circle cx="149.5" cy="625.1" r="3.5" fill="#3b239c" stroke="#1c1c1c" stroke-width="0.7"/>
<circle cx="141.4" cy="633.5" r="3.5" fill="#3b239c" stroke="#1c1c1c" stroke-width="0.7"/>
<circle cx="144.6" cy="645.3" r="3.5" fill="#3b239c" stroke="#1c1c1c" stroke-width="0.7"/>
<circle cx="150.1" cy="648.1" r="3.5" fill="#3b239c" stroke="#1c1c1c" stroke-width="0.7"/>
<circle cx="156.3" cy="647.9" r="3.5" fill="#3b239c" stroke="#1c1c1c" stroke-width="0.7"/>
<circle cx="158.8" cy="650.8" r="3.5" fill="#3b239c" stroke="#1c1c1c" stroke-width="0.7"/>
<circle cx="155.5" cy="652.3" r="3.5" fill="#3b239c" stroke="#1c1c1c" stroke-width="0.7"/>
<circle cx="133.5" cy="657.2" r="3.5" fill="#3b239c" stroke="#1c1c1c" stroke-width="0.7"/>
<circle cx="145.5" cy="656.1" r="3.5" fill="#3b239c" stroke="#1c1c1c" stroke-width="0.7"/>
<circle cx="155.9" cy="659.3" r="3.5" fill="#3b239c" stroke="#1c1c1c" stroke-width="0.7"/>
<circle cx="178.5" cy="627.4" r="3.5" fill="#3b239c" stroke="#1c1c1c" stroke-width="0.7"/>
<circle cx="188.0" cy="637.4" r="3.5" fill="#3b239c" stroke="#1c1c1c" stroke-width="0.7"/>
<circle cx="171.5" cy="641.1" r="3.5" fill="#3b239c" stroke="#1c1c1c" stroke-width="0.7"/>
<circle cx="205.9" cy="638.5" r="3.5" fill="#3b239c" stroke="#1c1c1c" stroke-width="0.7"/>
<circle cx="195.0" cy="654.9" r="3.5" fill="#3b239c" stroke="#1c1c1c" stroke-width="0.7"/>
<circle cx="186.6" cy="659.6" r="3.5" fill="#3b239c" stroke="#1c1c1c" stroke-width="0.7"/>
<circle cx="116.2" cy="670.0" r="3.5" fill="#3b239c" stroke="#1c1c1c" stroke-width="0.7"/>
<circle cx="230.6" cy="630.4" r="3.5" fill="#3b239c" stroke="#1c1c1c" stroke-width="0.7"/>
<circle cx="206.4" cy="638.5" r="3.5" fill="#3b239c" stroke="#1c1c1c" stroke-width="0.7"/>
<circle cx="221.0" cy="639.1" r="3.5" fill="#3b239c" stroke="#1c1c1c" stroke-width="0.7"/>
<circle cx="202.3" cy="659.0" r="3.5" fill="#3b239c" stroke="#1c1c1c" stroke-width="0.7"/>
<circle cx="144.4" cy="614.2" r="3.5" fill="#23c0b6" stroke="#1c1c1c" stroke-width="0.7"/>
<circle cx="204.7" cy="612.5" r="3.5" fill="#23c0b6" stroke="#1c1c1c" stroke-width="0.7"/>
<circle cx="177.0" cy="630.1" r="3.5" fill="#23c0b6" stroke="#1c1c1c" stroke-width="0.7"/>
<circle cx="162.5" cy="645.0" r="3.5" fill="#23c0b6" stroke="#1c1c1c" stroke-width="0.7"/>
<circle cx="175.5" cy="643.6" r="3.5" fill="#23c0b6" stroke="#1c1c1c" stroke-width="0.7"/>
<circle cx="185.1" cy="643.0" r="3.5" fill="#23c0b6" stroke="#1c1c1c" stroke-width="0.7"/>
<circle cx="206.5" cy="642.3" r="3.5" fill="#23c0b6" stroke="#1c1c1c" stroke-width="0.7"/>
<circle cx="169.7" cy="650.2" r="3.5" fill="#23c0b6" stroke="#1c1c1c" stroke-width="0.7"/>
<circle cx="174.4" cy="651.4" r="3.5" fill="#23c0b6" stroke="#1c1c1c" stroke-width="0.7"/>
<circle cx="178.5" cy="647.3" r="3.5" fill="#23c0b6" stroke="#1c1c1c" stroke-width="0.7"/>
<circle cx="186.1" cy="647.9" r="3.5" fill="#23c0b6" stroke="#1c1c1c" stroke-width="0.7"/>
<circle cx="194.0" cy="649.4" r="3.5" fill="#23c0b6" stroke="#1c1c1c" stroke-width="0.7"/>
<circle cx="200.7" cy="647.9" r="3.5" fill="#23c0b6" stroke="#1c1c1c" stroke-width="0.7"/>
<circle cx="185.5" cy="652.6" r="3.5" fill="#23c0b6" stroke="#1c1c1c" stroke-width="0.7"/>
<circle cx="168.0" cy="656.1" r="3.5" fill="#23c0b6" stroke="#1c1c1c" stroke-width="0.7"/>
<circle cx="173.8" cy="658.4" r="3.5" fill="#23c0b6" stroke="#1c1c1c" stroke-width="0.7"/>
<circle cx="181.4" cy="658.4" r="3.5" fill="#23c0b6" stroke="#1c1c1c" stroke-width="0.7"/>
<circle cx="177.9" cy="660.7" r="3.5" fill="#23c0b6" stroke="#1c1c1c" stroke-width="0.7"/>
<circle cx="192.5" cy="658.4" r="3.5" fill="#23c0b6" stroke="#1c1c1c" stroke-width="0.7"/>
<circle cx="199.8" cy="657.2" r="3.5" fill="#23c0b6" stroke="#1c1c1c" stroke-width="0.7"/>
<circle cx="204.7" cy="652.6" r="3.5" fill="#23c0b6" stroke="#1c1c1c" stroke-width="0.7"/>
<circle cx="207.1" cy="651.4" r="3.5" fill="#23c0b6" stroke="#1c1c1c" stroke-width="0.7"/>
<circle cx="187.2" cy="663.6" r="3.5" fill="#23c0b6" stroke="#1c1c1c" stroke-width="0.7"/>
<circle cx="190.7" cy="664.2" r="3.5" fill="#23c0b6" stroke="#1c1c1c" stroke-width="0.7"/>
<circle cx="199.8" cy="665.4" r="3.5" fill="#23c0b6" stroke="#1c1c1c" stroke-width="0.7"/>
<circle cx="189.6" cy="670.7" r="3.5" fill="#23c0b6" stroke="#1c1c1c" stroke-width="0.7"/>
<circle cx="198.7" cy="670.7" r="3.5" fill="#23c0b6" stroke="#1c1c1c" stroke-width="0.7"/>
<circle cx="208.8" cy="670.1" r="3.5" fill="#23c0b6" stroke="#1c1c1c" stroke-width="0.7"/>
<circle cx="208.2" cy="633.3" r="3.5" fill="#23c0b6" stroke="#1c1c1c" stroke-width="0.7"/>
<circle cx="218.9" cy="624.3" r="3.5" fill="#23c0b6" stroke="#1c1c1c" stroke-width="0.7"/>
<circle cx="209.3" cy="633.9" r="3.5" fill="#23c0b6" stroke="#1c1c1c" stroke-width="0.7"/>
<circle cx="242.6" cy="640.1" r="3.5" fill="#23c0b6" stroke="#1c1c1c" stroke-width="0.7"/>
<circle cx="217.5" cy="638.0" r="3.5" fill="#23c0b6" stroke="#1c1c1c" stroke-width="0.7"/>
<circle cx="207.0" cy="641.8" r="3.5" fill="#23c0b6" stroke="#1c1c1c" stroke-width="0.7"/>
<circle cx="218.1" cy="642.6" r="3.5" fill="#23c0b6" stroke="#1c1c1c" stroke-width="0.7"/>
<circle cx="213.4" cy="644.7" r="3.5" fill="#23c0b6" stroke="#1c1c1c" stroke-width="0.7"/>
<circle cx="222.2" cy="646.5" r="3.5" fill="#23c0b6" stroke="#1c1c1c" stroke-width="0.7"/>
<circle cx="201.2" cy="647.9" r="3.5" fill="#23c0b6" stroke="#1c1c1c" stroke-width="0.7"/>
<circle cx="229.8" cy="647.9" r="3.5" fill="#23c0b6" stroke="#1c1c1c" stroke-width="0.7"/>
<circle cx="237.1" cy="646.5" r="3.5" fill="#23c0b6" stroke="#1c1c1c" stroke-width="0.7"/>
<circle cx="234.8" cy="652.6" r="3.5" fill="#23c0b6" stroke="#1c1c1c" stroke-width="0.7"/>
<circle cx="224.0" cy="654.3" r="3.5" fill="#23c0b6" stroke="#1c1c1c" stroke-width="0.7"/>
<circle cx="217.5" cy="651.4" r="3.5" fill="#23c0b6" stroke="#1c1c1c" stroke-width="0.7"/>
<circle cx="212.3" cy="651.4" r="3.5" fill="#23c0b6" stroke="#1c1c1c" stroke-width="0.7"/>
<circle cx="207.0" cy="652.0" r="3.5" fill="#23c0b6" stroke="#1c1c1c" stroke-width="0.7"/>
<circle cx="212.8" cy="654.3" r="3.5" fill="#23c0b6" stroke="#1c1c1c" stroke-width="0.7"/>
<circle cx="218.1" cy="657.8" r="3.5" fill="#23c0b6" stroke="#1c1c1c" stroke-width="0.7"/>
<circle cx="211.1" cy="659.3" r="3.5" fill="#23c0b6" stroke="#1c1c1c" stroke-width="0.7"/>
<circle cx="201.2" cy="656.6" r="3.5" fill="#23c0b6" stroke="#1c1c1c" stroke-width="0.7"/>
<circle cx="215.8" cy="663.6" r="3.5" fill="#23c0b6" stroke="#1c1c1c" stroke-width="0.7"/>
<circle cx="214.6" cy="666.6" r="3.5" fill="#23c0b6" stroke="#1c1c1c" stroke-width="0.7"/>
<circle cx="211.1" cy="670.1" r="3.5" fill="#23c0b6" stroke="#1c1c1c" stroke-width="0.7"/>
<circle cx="200.0" cy="665.4" r="3.5" fill="#23c0b6" stroke="#1c1c1c" stroke-width="0.7"/>
<circle cx="200.0" cy="670.7" r="3.5" fill="#23c0b6" stroke="#1c1c1c" stroke-width="0.7"/>
<circle cx="59.8" cy="490.6" r="3.5" fill="#f6e80c" stroke="#1c1c1c" stroke-width="0.7"/>
<circle cx="91.8" cy="481.8" r="3.5" fill="#f6e80c" stroke="#1c1c1c" stroke-width="0.7"/>
<circle cx="77.3" cy="500.5" r="3.5" fill="#f6e80c" stroke="#1c1c1c" stroke-width="0.7"/>
<circle cx="77.3" cy="505.8" r="3.5" fill="#f6e80c" stroke="#1c1c1c" stroke-width="0.7"/>
<circle cx="75.2" cy="522.6" r="3.5" fill="#f6e80c" stroke="#1c1c1c" stroke-width="0.7"/>
<circle cx="106.5" cy="504.0" r="3.5" fill="#f6e80c" stroke="#1c1c1c" stroke-width="0.7"/>
<circle cx="106.5" cy="508.4" r="3.5" fill="#f6e80c" stroke="#1c1c1c" stroke-width="0.7"/>
<circle cx="116.3" cy="502.1" r="3.5" fill="#f6e80c" stroke="#1c1c1c" stroke-width="0.7"/>
<circle cx="122.4" cy="497.9" r="3.5" fill="#f6e80c" stroke="#1c1c1c" stroke-width="0.7"/>
<circle cx="126.8" cy="507.9" r="3.5" fill="#f6e80c" stroke="#1c1c1c" stroke-width="0.7"/>
<circle cx="121.5" cy="521.5" r="3.5" fill="#f6e80c" stroke="#1c1c1c" stroke-width="0.7"/>
<circle cx="112.4" cy="555.1" r="3.5" fill="#f6e80c" stroke="#1c1c1c" stroke-width="0.7"/>
<circle cx="139.9" cy="546.7" r="3.5" fill="#f6e80c" stroke="#1c1c1c" stroke-width="0.7"/>
<circle cx="140.3" cy="565.2" r="3.5" fill="#f6e80c" stroke="#1c1c1c" stroke-width="0.7"/>
<circle cx="165.3" cy="499.5" r="3.5" fill="#f6e80c" stroke="#1c1c1c" stroke-width="0.7"/>
<circle cx="140.2" cy="510.3" r="3.4" fill="#23c0b6" stroke="#e0561b" stroke-width="1.5"/>
<circle cx="147.5" cy="535.5" r="3.4" fill="#23c0b6" stroke="#e0561b" stroke-width="1.5"/>
<circle cx="185.6" cy="516.6" r="3.4" fill="#23c0b6" stroke="#e0561b" stroke-width="1.5"/>
<circle cx="217.1" cy="498.1" r="3.4" fill="#23c0b6" stroke="#e0561b" stroke-width="1.5"/>
<circle cx="238.9" cy="539.7" r="3.4" fill="#23c0b6" stroke="#e0561b" stroke-width="1.5"/>
<circle cx="202.9" cy="563.5" r="3.4" fill="#23c0b6" stroke="#e0561b" stroke-width="1.5"/>
<circle cx="237.5" cy="569.8" r="3.4" fill="#23c0b6" stroke="#e0561b" stroke-width="1.5"/>
<circle cx="233.2" cy="577.5" r="3.4" fill="#23c0b6" stroke="#e0561b" stroke-width="1.5"/>
<rect x="397.5" y="459.2" width="238.89999999999998" height="236.90000000000003" fill="none" stroke="#6a6a6a" stroke-width="1"/>
<text x="516.95" y="453.4" text-anchor="middle" font-size="11.05">Functional parameter space</text>
<line x1="397.5" y1="486.1" x2="401.7" y2="486.1" stroke="#6a6a6a" stroke-width="1"/>
<text x="393.7" y="491.0" text-anchor="end" font-size="10.5">10<tspan dx="0.9" dy="-5.3" font-size="7.5">1</tspan></text>
<line x1="397.5" y1="575.1" x2="401.7" y2="575.1" stroke="#6a6a6a" stroke-width="1"/>
<text x="393.7" y="580.0" text-anchor="end" font-size="10.5">10<tspan dx="0.9" dy="-5.3" font-size="7.5">0</tspan></text>
<line x1="397.5" y1="651.4" x2="401.7" y2="651.4" stroke="#6a6a6a" stroke-width="1"/>
<text x="393.7" y="656.3" text-anchor="end" font-size="10.5">10<tspan dx="0.2" dy="-5.3" font-size="7.5">−1</tspan></text>
<line x1="397.5" y1="696.0" x2="401.7" y2="696.0" stroke="#6a6a6a" stroke-width="1"/>
<text x="387.7" y="700.3" text-anchor="end" font-size="10.5">0</text>
<line x1="397.5" y1="696.1" x2="397.5" y2="691.6" stroke="#6a6a6a" stroke-width="1"/>
<text x="397.5" y="711" text-anchor="middle" font-size="10.5">0</text>
<line x1="424.6" y1="696.1" x2="424.6" y2="691.6" stroke="#6a6a6a" stroke-width="1"/>
<text x="417.3" y="711" font-size="10.5">10<tspan dx="0.2" dy="-5.3" font-size="7.5">−2</tspan></text>
<line x1="525.4" y1="696.1" x2="525.4" y2="691.6" stroke="#6a6a6a" stroke-width="1"/>
<text x="519.6" y="711" font-size="10.5">10<tspan dx="0.2" dy="-5.3" font-size="7.5">−1</tspan></text>
<text x="516.6" y="732.5" text-anchor="middle" font-size="11.1">Indigenous biomass activity, <tspan font-style="italic">x̃</tspan>(0) (mM day<tspan dx="0.3" dy="-5" font-size="7.5">−1</tspan><tspan dy="5">)</tspan></text>
<text transform="translate(349.6,575) rotate(-90)" text-anchor="middle" font-size="11.25">Available limiting nutrient,</text>
<text transform="translate(361.8,578.2) rotate(-90)" text-anchor="middle" font-size="11.2"><tspan font-style="italic">γ</tspan>C̃(0) (mM day<tspan dx="0.3" dy="-5" font-size="7.5">−1</tspan><tspan dy="5">)</tspan></text>
<circle cx="539.3" cy="471.6" r="2.6" fill="#3b239c" stroke="#1a1a1a" stroke-width="0.7"/>
<text x="547" y="476.2" font-size="11">Regime I</text>
<circle cx="539.3" cy="487.7" r="2.6" fill="#23c0b6" stroke="#1a1a1a" stroke-width="0.7"/>
<text x="547" y="492.5" font-size="11">Regime II</text>
<circle cx="539.3" cy="504.0" r="2.6" fill="#f6e80c" stroke="#1a1a1a" stroke-width="0.7"/>
<text x="547" y="508.5" font-size="11">Regime III</text>
<circle cx="539.3" cy="520.1" r="2.6" fill="#23c0b6" stroke="#e0561b" stroke-width="1.3"/>
<text x="547" y="524.0" font-size="11">Early warning</text>
<text x="547" y="538.7" font-size="11">of Regime III</text>
<circle cx="398.3" cy="613.3" r="3.5" fill="#3b239c" stroke="#1c1c1c" stroke-width="0.7"/>
<circle cx="404.4" cy="646.4" r="3.5" fill="#3b239c" stroke="#1c1c1c" stroke-width="0.7"/>
<circle cx="421.4" cy="680.1" r="3.5" fill="#3b239c" stroke="#1c1c1c" stroke-width="0.7"/>
<circle cx="403.6" cy="686.4" r="3.5" fill="#3b239c" stroke="#1c1c1c" stroke-width="0.7"/>
<circle cx="397.5" cy="695.6" r="3.5" fill="#3b239c" stroke="#1c1c1c" stroke-width="0.7"/>
<circle cx="402.8" cy="695.6" r="3.5" fill="#3b239c" stroke="#1c1c1c" stroke-width="0.7"/>
<circle cx="430.6" cy="686.4" r="3.5" fill="#3b239c" stroke="#1c1c1c" stroke-width="0.7"/>
<circle cx="433.8" cy="692.9" r="3.5" fill="#3b239c" stroke="#1c1c1c" stroke-width="0.7"/>
<circle cx="444.3" cy="695.6" r="3.5" fill="#3b239c" stroke="#1c1c1c" stroke-width="0.7"/>
<circle cx="447.7" cy="695.6" r="3.5" fill="#3b239c" stroke="#1c1c1c" stroke-width="0.7"/>
<circle cx="452.4" cy="695.6" r="3.5" fill="#3b239c" stroke="#1c1c1c" stroke-width="0.7"/>
<circle cx="449.0" cy="688.5" r="3.5" fill="#3b239c" stroke="#1c1c1c" stroke-width="0.7"/>
<circle cx="454.5" cy="685.1" r="3.5" fill="#3b239c" stroke="#1c1c1c" stroke-width="0.7"/>
<circle cx="461.6" cy="687.7" r="3.5" fill="#3b239c" stroke="#1c1c1c" stroke-width="0.7"/>
<circle cx="461.4" cy="695.0" r="3.5" fill="#3b239c" stroke="#1c1c1c" stroke-width="0.7"/>
<circle cx="452.2" cy="677.2" r="3.5" fill="#3b239c" stroke="#1c1c1c" stroke-width="0.7"/>
<circle cx="451.9" cy="666.7" r="3.5" fill="#3b239c" stroke="#1c1c1c" stroke-width="0.7"/>
<circle cx="458.2" cy="662.7" r="3.5" fill="#3b239c" stroke="#1c1c1c" stroke-width="0.7"/>
<circle cx="462.2" cy="661.4" r="3.5" fill="#3b239c" stroke="#1c1c1c" stroke-width="0.7"/>
<circle cx="469.3" cy="668.5" r="3.5" fill="#3b239c" stroke="#1c1c1c" stroke-width="0.7"/>
<circle cx="472.4" cy="663.3" r="3.5" fill="#3b239c" stroke="#1c1c1c" stroke-width="0.7"/>
<circle cx="476.1" cy="672.4" r="3.5" fill="#3b239c" stroke="#1c1c1c" stroke-width="0.7"/>
<circle cx="480.6" cy="663.0" r="3.5" fill="#3b239c" stroke="#1c1c1c" stroke-width="0.7"/>
<circle cx="485.5" cy="658.8" r="3.5" fill="#3b239c" stroke="#1c1c1c" stroke-width="0.7"/>
<circle cx="489.0" cy="654.8" r="3.5" fill="#23c0b6" stroke="#1c1c1c" stroke-width="0.7"/>
<circle cx="490.8" cy="648.8" r="3.5" fill="#23c0b6" stroke="#1c1c1c" stroke-width="0.7"/>
<circle cx="493.4" cy="642.5" r="3.5" fill="#23c0b6" stroke="#1c1c1c" stroke-width="0.7"/>
<circle cx="498.2" cy="648.5" r="3.5" fill="#23c0b6" stroke="#1c1c1c" stroke-width="0.7"/>
<circle cx="497.4" cy="662.2" r="3.5" fill="#23c0b6" stroke="#1c1c1c" stroke-width="0.7"/>
<circle cx="502.9" cy="659.6" r="3.5" fill="#23c0b6" stroke="#1c1c1c" stroke-width="0.7"/>
<circle cx="563.1" cy="572.1" r="3.5" fill="#23c0b6" stroke="#1c1c1c" stroke-width="0.7"/>
<circle cx="562.3" cy="589.7" r="3.5" fill="#23c0b6" stroke="#1c1c1c" stroke-width="0.7"/>
<circle cx="570.2" cy="599.7" r="3.5" fill="#23c0b6" stroke="#1c1c1c" stroke-width="0.7"/>
<circle cx="588.6" cy="600.5" r="3.5" fill="#23c0b6" stroke="#1c1c1c" stroke-width="0.7"/>
<circle cx="590.4" cy="602.3" r="3.5" fill="#23c0b6" stroke="#1c1c1c" stroke-width="0.7"/>
<circle cx="591.7" cy="604.4" r="3.5" fill="#23c0b6" stroke="#1c1c1c" stroke-width="0.7"/>
<circle cx="585.1" cy="603.6" r="3.5" fill="#23c0b6" stroke="#1c1c1c" stroke-width="0.7"/>
<circle cx="578.6" cy="606.8" r="3.5" fill="#23c0b6" stroke="#1c1c1c" stroke-width="0.7"/>
<circle cx="575.9" cy="612.8" r="3.5" fill="#23c0b6" stroke="#1c1c1c" stroke-width="0.7"/>
<circle cx="580.4" cy="617.3" r="3.5" fill="#23c0b6" stroke="#1c1c1c" stroke-width="0.7"/>
<circle cx="585.7" cy="618.6" r="3.5" fill="#23c0b6" stroke="#1c1c1c" stroke-width="0.7"/>
<circle cx="562.8" cy="612.8" r="3.5" fill="#23c0b6" stroke="#1c1c1c" stroke-width="0.7"/>
<circle cx="555.7" cy="617.3" r="3.5" fill="#23c0b6" stroke="#1c1c1c" stroke-width="0.7"/>
<circle cx="530.0" cy="623.3" r="3.5" fill="#23c0b6" stroke="#1c1c1c" stroke-width="0.7"/>
<circle cx="559.7" cy="626.5" r="3.5" fill="#23c0b6" stroke="#1c1c1c" stroke-width="0.7"/>
<circle cx="563.6" cy="625.4" r="3.5" fill="#23c0b6" stroke="#1c1c1c" stroke-width="0.7"/>
<circle cx="570.7" cy="626.5" r="3.5" fill="#23c0b6" stroke="#1c1c1c" stroke-width="0.7"/>
<circle cx="574.1" cy="628.6" r="3.5" fill="#23c0b6" stroke="#1c1c1c" stroke-width="0.7"/>
<circle cx="575.9" cy="624.6" r="3.5" fill="#23c0b6" stroke="#1c1c1c" stroke-width="0.7"/>
<circle cx="580.7" cy="624.6" r="3.5" fill="#23c0b6" stroke="#1c1c1c" stroke-width="0.7"/>
<circle cx="587.8" cy="626.5" r="3.5" fill="#23c0b6" stroke="#1c1c1c" stroke-width="0.7"/>
<circle cx="586.5" cy="629.9" r="3.5" fill="#23c0b6" stroke="#1c1c1c" stroke-width="0.7"/>
<circle cx="594.3" cy="632.0" r="3.5" fill="#23c0b6" stroke="#1c1c1c" stroke-width="0.7"/>
<circle cx="604.8" cy="630.4" r="3.5" fill="#23c0b6" stroke="#1c1c1c" stroke-width="0.7"/>
<circle cx="558.3" cy="633.3" r="3.5" fill="#23c0b6" stroke="#1c1c1c" stroke-width="0.7"/>
<circle cx="560.2" cy="635.7" r="3.5" fill="#23c0b6" stroke="#1c1c1c" stroke-width="0.7"/>
<circle cx="548.4" cy="634.6" r="3.5" fill="#23c0b6" stroke="#1c1c1c" stroke-width="0.7"/>
<circle cx="536.5" cy="637.2" r="3.5" fill="#23c0b6" stroke="#1c1c1c" stroke-width="0.7"/>
<circle cx="572.0" cy="636.5" r="3.5" fill="#23c0b6" stroke="#1c1c1c" stroke-width="0.7"/>
<circle cx="572.0" cy="638.5" r="3.5" fill="#23c0b6" stroke="#1c1c1c" stroke-width="0.7"/>
<circle cx="508.2" cy="641.7" r="3.5" fill="#23c0b6" stroke="#1c1c1c" stroke-width="0.7"/>
<circle cx="508.9" cy="647.5" r="3.5" fill="#23c0b6" stroke="#1c1c1c" stroke-width="0.7"/>
<circle cx="516.8" cy="646.4" r="3.5" fill="#23c0b6" stroke="#1c1c1c" stroke-width="0.7"/>
<circle cx="520.2" cy="644.3" r="3.5" fill="#23c0b6" stroke="#1c1c1c" stroke-width="0.7"/>
<circle cx="523.9" cy="640.9" r="3.5" fill="#23c0b6" stroke="#1c1c1c" stroke-width="0.7"/>
<circle cx="543.1" cy="644.3" r="3.5" fill="#23c0b6" stroke="#1c1c1c" stroke-width="0.7"/>
<circle cx="548.4" cy="643.0" r="3.5" fill="#23c0b6" stroke="#1c1c1c" stroke-width="0.7"/>
<circle cx="553.6" cy="643.8" r="3.5" fill="#23c0b6" stroke="#1c1c1c" stroke-width="0.7"/>
<circle cx="553.6" cy="647.7" r="3.5" fill="#23c0b6" stroke="#1c1c1c" stroke-width="0.7"/>
<circle cx="541.3" cy="648.3" r="3.5" fill="#23c0b6" stroke="#1c1c1c" stroke-width="0.7"/>
<circle cx="535.2" cy="652.2" r="3.5" fill="#23c0b6" stroke="#1c1c1c" stroke-width="0.7"/>
<circle cx="547.6" cy="654.3" r="3.5" fill="#23c0b6" stroke="#1c1c1c" stroke-width="0.7"/>
<circle cx="559.7" cy="650.1" r="3.5" fill="#23c0b6" stroke="#1c1c1c" stroke-width="0.7"/>
<circle cx="562.3" cy="656.2" r="3.5" fill="#23c0b6" stroke="#1c1c1c" stroke-width="0.7"/>
<circle cx="571.5" cy="645.6" r="3.5" fill="#23c0b6" stroke="#1c1c1c" stroke-width="0.7"/>
<circle cx="571.5" cy="649.1" r="3.5" fill="#23c0b6" stroke="#1c1c1c" stroke-width="0.7"/>
<circle cx="570.2" cy="656.2" r="3.5" fill="#23c0b6" stroke="#1c1c1c" stroke-width="0.7"/>
<circle cx="569.4" cy="658.8" r="3.5" fill="#23c0b6" stroke="#1c1c1c" stroke-width="0.7"/>
<circle cx="579.4" cy="645.6" r="3.5" fill="#23c0b6" stroke="#1c1c1c" stroke-width="0.7"/>
<circle cx="583.3" cy="642.5" r="3.5" fill="#23c0b6" stroke="#1c1c1c" stroke-width="0.7"/>
<circle cx="584.3" cy="646.4" r="3.5" fill="#23c0b6" stroke="#1c1c1c" stroke-width="0.7"/>
<circle cx="583.3" cy="652.7" r="3.5" fill="#23c0b6" stroke="#1c1c1c" stroke-width="0.7"/>
<circle cx="585.7" cy="654.8" r="3.5" fill="#23c0b6" stroke="#1c1c1c" stroke-width="0.7"/>
<circle cx="579.9" cy="655.6" r="3.5" fill="#23c0b6" stroke="#1c1c1c" stroke-width="0.7"/>
<circle cx="581.7" cy="662.7" r="3.5" fill="#23c0b6" stroke="#1c1c1c" stroke-width="0.7"/>
<circle cx="564.1" cy="665.4" r="3.5" fill="#23c0b6" stroke="#1c1c1c" stroke-width="0.7"/>
<circle cx="561.0" cy="668.0" r="3.5" fill="#23c0b6" stroke="#1c1c1c" stroke-width="0.7"/>
<circle cx="505.0" cy="658.8" r="3.5" fill="#23c0b6" stroke="#1c1c1c" stroke-width="0.7"/>
<circle cx="507.6" cy="667.2" r="3.5" fill="#23c0b6" stroke="#1c1c1c" stroke-width="0.7"/>
<circle cx="530.7" cy="678.0" r="3.5" fill="#23c0b6" stroke="#1c1c1c" stroke-width="0.7"/>
<circle cx="516.8" cy="688.5" r="3.5" fill="#23c0b6" stroke="#1c1c1c" stroke-width="0.7"/>
<circle cx="510.8" cy="695.6" r="3.5" fill="#23c0b6" stroke="#1c1c1c" stroke-width="0.7"/>
<circle cx="402.3" cy="489.4" r="3.5" fill="#f6e80c" stroke="#1c1c1c" stroke-width="0.7"/>
<circle cx="407.0" cy="492.8" r="3.5" fill="#f6e80c" stroke="#1c1c1c" stroke-width="0.7"/>
<circle cx="409.3" cy="486.5" r="3.5" fill="#f6e80c" stroke="#1c1c1c" stroke-width="0.7"/>
<circle cx="419.3" cy="493.8" r="3.5" fill="#f6e80c" stroke="#1c1c1c" stroke-width="0.7"/>
<circle cx="427.0" cy="491.2" r="3.5" fill="#f6e80c" stroke="#1c1c1c" stroke-width="0.7"/>
<circle cx="433.0" cy="490.7" r="3.5" fill="#f6e80c" stroke="#1c1c1c" stroke-width="0.7"/>
<circle cx="441.4" cy="491.7" r="3.5" fill="#f6e80c" stroke="#1c1c1c" stroke-width="0.7"/>
<circle cx="456.4" cy="489.1" r="3.5" fill="#f6e80c" stroke="#1c1c1c" stroke-width="0.7"/>
<circle cx="475.0" cy="487.0" r="3.5" fill="#f6e80c" stroke="#1c1c1c" stroke-width="0.7"/>
<circle cx="438.5" cy="512.8" r="3.5" fill="#f6e80c" stroke="#1c1c1c" stroke-width="0.7"/>
<circle cx="427.5" cy="526.4" r="3.5" fill="#f6e80c" stroke="#1c1c1c" stroke-width="0.7"/>
<circle cx="460.6" cy="530.4" r="3.5" fill="#f6e80c" stroke="#1c1c1c" stroke-width="0.7"/>
<circle cx="460.3" cy="533.0" r="3.5" fill="#f6e80c" stroke="#1c1c1c" stroke-width="0.7"/>
<circle cx="427.5" cy="546.9" r="3.5" fill="#f6e80c" stroke="#1c1c1c" stroke-width="0.7"/>
<circle cx="508.9" cy="579.4" r="3.4" fill="#23c0b6" stroke="#e0561b" stroke-width="1.5"/>
<circle cx="550.5" cy="572.1" r="3.4" fill="#23c0b6" stroke="#e0561b" stroke-width="1.5"/>
<circle cx="539.9" cy="583.1" r="3.4" fill="#23c0b6" stroke="#e0561b" stroke-width="1.5"/>
<circle cx="534.7" cy="587.3" r="3.4" fill="#23c0b6" stroke="#e0561b" stroke-width="1.5"/>
<circle cx="566.2" cy="581.8" r="3.4" fill="#23c0b6" stroke="#e0561b" stroke-width="1.5"/>
<circle cx="577.8" cy="591.3" r="3.4" fill="#23c0b6" stroke="#e0561b" stroke-width="1.5"/>
<circle cx="581.2" cy="595.2" r="3.4" fill="#23c0b6" stroke="#e0561b" stroke-width="1.5"/>
<circle cx="579.1" cy="599.7" r="3.4" fill="#23c0b6" stroke="#e0561b" stroke-width="1.5"/>
</svg>
</body></html>
